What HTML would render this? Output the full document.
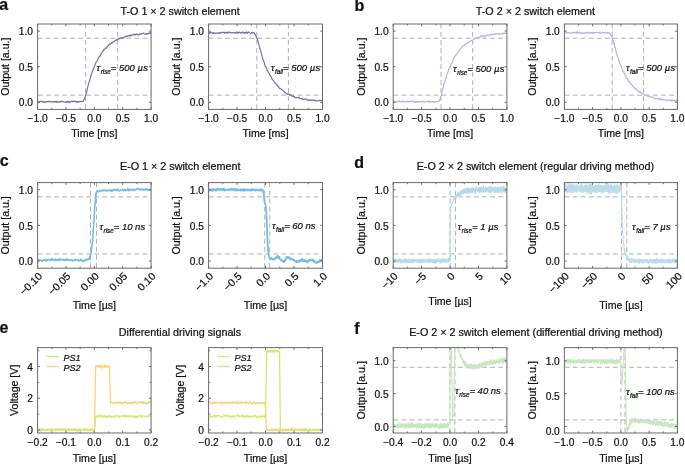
<!DOCTYPE html><html><head><meta charset="utf-8"><style>html,body{margin:0;padding:0;background:#fff;overflow:hidden;}svg{display:block;}text{font-family:'Liberation Sans', sans-serif;fill:#111;stroke:#111;stroke-width:0.22px;}svg{will-change:transform;}</style></head><body>
<svg width="685" height="465" viewBox="0 0 685 465">
<rect width="685" height="465" fill="#fff"/>
<text x="-0.8" y="9.6" font-size="16" font-weight="bold" fill="#000">a</text>
<text x="354.6" y="10.7" font-size="16" font-weight="bold" fill="#000">b</text>
<text x="-0.3" y="165.8" font-size="16" font-weight="bold" fill="#000">c</text>
<text x="354.2" y="168.1" font-size="16" font-weight="bold" fill="#000">d</text>
<text x="-0.6" y="332.5" font-size="16" font-weight="bold" fill="#000">e</text>
<text x="354.3" y="333.5" font-size="16" font-weight="bold" fill="#000">f</text>
<text x="180.1" y="14.7" font-size="10.75" text-anchor="middle">T-O 1 × 2 switch element</text>
<text x="535.4" y="14.8" font-size="10.75" text-anchor="middle">T-O 2 × 2 switch element</text>
<text x="180.2" y="169.6" font-size="10.75" text-anchor="middle">E-O 1 × 2 switch element</text>
<text x="535.4" y="169.6" font-size="10.75" text-anchor="middle">E-O 2 × 2 switch element (regular driving method)</text>
<text x="180.0" y="335.9" font-size="10.75" text-anchor="middle">Differential driving signals</text>
<text x="535.9" y="335.9" font-size="10.75" text-anchor="middle">E-O 2 × 2 switch element (differential driving method)</text>
<clipPath id="k1"><rect x="37.60" y="24.00" width="113.50" height="85.40"/></clipPath>
<line x1="37.90" y1="95.17" x2="151.10" y2="95.17" stroke="#b0b0b0" stroke-width="1" stroke-dasharray="4.8 3.25"/>
<line x1="37.90" y1="38.23" x2="151.10" y2="38.23" stroke="#b0b0b0" stroke-width="1" stroke-dasharray="4.8 3.25"/>
<line x1="85.61" y1="109.10" x2="85.61" y2="24.00" stroke="#b0b0b0" stroke-width="1" stroke-dasharray="4.8 3.25"/>
<line x1="117.62" y1="109.10" x2="117.62" y2="24.00" stroke="#b0b0b0" stroke-width="1" stroke-dasharray="4.8 3.25"/>
<polyline fill="none" stroke="#7d6ca8" stroke-width="1.20" stroke-linejoin="round" stroke-opacity="1" points="37.60,101.65 38.04,101.64 38.48,101.85 38.91,102.03 39.35,102.00 39.79,101.49 40.23,101.33 40.67,101.35 41.11,101.39 41.54,101.55 41.98,101.57 42.42,102.09 42.86,101.92 43.30,101.37 43.74,101.46 44.17,102.01 44.61,102.58 45.05,102.38 45.49,102.06 45.93,101.75 46.36,101.65 46.80,101.59 47.24,101.74 47.68,101.80 48.12,101.54 48.56,101.78 48.99,101.45 49.43,101.14 49.87,101.27 50.31,101.57 50.75,102.06 51.18,101.99 51.62,101.83 52.06,101.58 52.50,101.49 52.94,101.76 53.38,102.07 53.81,102.09 54.25,101.54 54.69,101.61 55.13,101.86 55.57,101.55 56.01,101.98 56.44,102.08 56.88,101.37 57.32,101.89 57.76,102.30 58.20,101.82 58.63,101.95 59.07,101.79 59.51,101.60 59.95,102.10 60.39,101.87 60.83,101.34 61.26,101.31 61.70,101.11 62.14,101.26 62.58,101.59 63.02,102.01 63.46,101.89 63.89,101.71 64.33,101.98 64.77,102.15 65.21,102.28 65.65,102.09 66.08,101.52 66.52,101.90 66.96,102.59 67.40,102.02 67.84,101.29 68.28,101.21 68.71,102.05 69.15,102.83 69.59,102.26 70.03,101.81 70.47,102.18 70.91,101.75 71.34,101.19 71.78,101.40 72.22,101.61 72.66,101.54 73.10,101.20 73.53,101.16 73.97,101.43 74.41,101.45 74.85,101.97 75.29,101.79 75.73,101.15 76.16,101.34 76.60,102.08 77.04,102.37 77.48,101.66 77.92,101.96 78.35,102.22 78.79,101.50 79.23,101.79 79.67,101.64 80.11,101.17 80.55,101.61 80.98,101.67 81.42,101.47 81.86,101.52 82.30,101.40 82.74,101.40 83.18,101.39 83.61,100.37 84.05,99.48 84.49,99.01 84.93,97.64 85.37,95.74 85.80,94.60 86.24,93.65 86.68,91.76 87.12,89.64 87.56,87.92 88.00,85.83 88.43,84.36 88.87,82.81 89.31,81.32 89.75,80.34 90.19,78.41 90.63,76.53 91.06,75.11 91.50,73.99 91.94,72.90 92.38,71.71 92.82,70.40 93.25,69.33 93.69,68.28 94.13,67.00 94.57,66.02 95.01,64.95 95.45,63.82 95.88,62.55 96.32,61.69 96.76,61.40 97.20,60.71 97.64,59.76 98.07,58.62 98.51,57.91 98.95,57.27 99.39,55.98 99.83,56.01 100.27,56.05 100.70,54.67 101.14,53.63 101.58,53.00 102.02,52.60 102.46,51.89 102.90,51.14 103.33,50.87 103.77,49.79 104.21,49.05 104.65,49.29 105.09,48.91 105.52,48.35 105.96,47.87 106.40,48.05 106.84,47.73 107.28,46.36 107.72,46.13 108.15,46.00 108.59,45.08 109.03,44.48 109.47,43.98 109.91,44.27 110.35,44.40 110.78,43.72 111.22,43.16 111.66,42.49 112.10,43.02 112.54,42.73 112.97,42.14 113.41,41.96 113.85,41.71 114.29,41.58 114.73,40.65 115.17,40.49 115.60,40.51 116.04,40.04 116.48,39.83 116.92,39.84 117.36,39.28 117.79,38.79 118.23,39.06 118.67,38.44 119.11,38.47 119.55,38.75 119.99,38.36 120.42,38.38 120.86,37.98 121.30,37.79 121.74,37.66 122.18,37.95 122.62,38.34 123.05,37.66 123.49,37.39 123.93,37.67 124.37,37.67 124.81,36.96 125.24,36.28 125.68,36.11 126.12,36.42 126.56,36.68 127.00,36.62 127.44,36.32 127.87,35.54 128.31,35.85 128.75,35.76 129.19,35.20 129.63,35.54 130.07,36.20 130.50,35.71 130.94,35.16 131.38,35.58 131.82,35.38 132.26,35.05 132.69,34.70 133.13,34.98 133.57,35.00 134.01,34.30 134.45,34.16 134.89,34.51 135.32,35.00 135.76,34.64 136.20,34.36 136.64,34.53 137.08,34.14 137.52,34.19 137.95,35.07 138.39,35.05 138.83,34.89 139.27,34.53 139.71,33.94 140.14,34.25 140.58,34.29 141.02,33.88 141.46,33.81 141.90,33.65 142.34,33.64 142.77,33.67 143.21,33.25 143.65,33.06 144.09,33.57 144.53,33.72 144.96,33.99 145.40,34.45 145.84,34.44 146.28,33.86 146.72,33.65 147.16,33.89 147.59,33.60 148.03,33.57 148.47,33.64 148.91,33.55 149.35,32.92 149.79,32.94 150.22,33.23 150.66,32.97 151.10,33.13" clip-path="url(#k1)"/>
<rect x="37.60" y="24.00" width="113.50" height="85.40" fill="none" stroke="#6a6a6a" stroke-width="1"/>
<path d="M37.60 109.40v-2.30M37.60 24.00v2.30M65.97 109.40v-2.30M65.97 24.00v2.30M94.35 109.40v-2.30M94.35 24.00v2.30M122.72 109.40v-2.30M122.72 24.00v2.30M151.10 109.40v-2.30M151.10 24.00v2.30M37.60 102.28h2.30M151.10 102.28h-2.30M37.60 66.70h2.30M151.10 66.70h-2.30M37.60 31.12h2.30M151.10 31.12h-2.30" stroke="#6a6a6a" stroke-width="1" fill="none"/>
<path d="M51.79 109.40v-1.60M51.79 24.00v1.60M80.16 109.40v-1.60M80.16 24.00v1.60M108.54 109.40v-1.60M108.54 24.00v1.60M136.91 109.40v-1.60M136.91 24.00v1.60" stroke="#6a6a6a" stroke-width="0.9" fill="none"/>
<text x="37.60" y="121.70" font-size="10.20" text-anchor="middle">−1.0</text>
<text x="65.97" y="121.70" font-size="10.20" text-anchor="middle">−0.5</text>
<text x="94.35" y="121.70" font-size="10.20" text-anchor="middle">0.0</text>
<text x="122.72" y="121.70" font-size="10.20" text-anchor="middle">0.5</text>
<text x="151.10" y="121.70" font-size="10.20" text-anchor="middle">1.0</text>
<text x="33.00" y="106.48" font-size="10.20" text-anchor="end">0.0</text>
<text x="33.00" y="70.90" font-size="10.20" text-anchor="end">0.5</text>
<text x="33.00" y="35.32" font-size="10.20" text-anchor="end">1.0</text>
<text x="94.35" y="136.90" font-size="10.60" text-anchor="middle">Time [ms]</text>
<text x="9.30" y="66.70" font-size="10.60" text-anchor="middle" transform="rotate(-90 9.30 66.70)">Output [a.u.]</text>
<text x="96.60" y="70.70" font-size="9.5" font-style="italic" fill="#222">τ<tspan font-size="6.3" dx="0.5" dy="3.0">rise</tspan><tspan dy="-3.0">= </tspan>500 µ<tspan dx="0.2">s</tspan></text>
<clipPath id="k2"><rect x="208.60" y="24.00" width="113.90" height="85.40"/></clipPath>
<line x1="208.90" y1="95.17" x2="322.50" y2="95.17" stroke="#b0b0b0" stroke-width="1" stroke-dasharray="4.8 3.25"/>
<line x1="208.90" y1="38.23" x2="322.50" y2="38.23" stroke="#b0b0b0" stroke-width="1" stroke-dasharray="4.8 3.25"/>
<line x1="256.78" y1="109.10" x2="256.78" y2="24.00" stroke="#b0b0b0" stroke-width="1" stroke-dasharray="4.8 3.25"/>
<line x1="288.39" y1="109.10" x2="288.39" y2="24.00" stroke="#b0b0b0" stroke-width="1" stroke-dasharray="4.8 3.25"/>
<polyline fill="none" stroke="#7d6ca8" stroke-width="1.20" stroke-linejoin="round" stroke-opacity="1" points="208.60,32.62 209.04,32.90 209.48,33.32 209.92,32.65 210.36,32.30 210.80,32.55 211.24,32.55 211.68,32.51 212.12,33.01 212.56,33.44 213.00,33.31 213.44,32.68 213.88,32.66 214.32,33.12 214.76,33.17 215.20,33.33 215.64,33.17 216.08,33.08 216.52,32.96 216.96,33.26 217.40,33.26 217.84,32.83 218.27,33.40 218.71,33.06 219.15,32.64 219.59,33.38 220.03,33.53 220.47,32.90 220.91,32.80 221.35,32.67 221.79,32.37 222.23,32.40 222.67,32.50 223.11,32.34 223.55,32.25 223.99,32.47 224.43,33.16 224.87,33.05 225.31,32.20 225.75,32.50 226.19,32.95 226.63,32.38 227.07,32.71 227.51,33.08 227.95,32.03 228.39,32.38 228.83,32.81 229.27,32.11 229.71,32.31 230.15,32.64 230.59,32.39 231.03,32.75 231.47,33.00 231.91,32.70 232.35,32.47 232.79,32.55 233.23,32.81 233.67,33.06 234.11,33.10 234.55,32.62 234.99,32.50 235.43,32.94 235.87,33.18 236.31,32.29 236.75,31.80 237.18,32.31 237.62,33.25 238.06,33.25 238.50,32.48 238.94,32.21 239.38,32.22 239.82,32.66 240.26,32.64 240.70,33.11 241.14,32.98 241.58,32.41 242.02,32.85 242.46,32.60 242.90,31.96 243.34,32.65 243.78,33.27 244.22,32.85 244.66,32.63 245.10,32.81 245.54,33.10 245.98,32.47 246.42,31.96 246.86,32.79 247.30,33.39 247.74,32.66 248.18,32.08 248.62,32.05 249.06,32.09 249.50,32.77 249.94,32.91 250.38,33.23 250.82,33.49 251.26,32.96 251.70,32.64 252.14,32.81 252.58,32.97 253.02,32.67 253.46,32.63 253.90,32.81 254.34,33.26 254.78,33.98 255.22,34.50 255.66,35.18 256.09,36.45 256.53,37.66 256.97,38.56 257.41,39.67 257.85,40.99 258.29,42.36 258.73,43.95 259.17,45.62 259.61,47.71 260.05,49.24 260.49,50.28 260.93,51.84 261.37,53.68 261.81,55.14 262.25,56.77 262.69,58.73 263.13,59.81 263.57,60.87 264.01,61.95 264.45,63.20 264.89,65.22 265.33,66.35 265.77,66.40 266.21,67.30 266.65,69.08 267.09,70.18 267.53,70.67 267.97,71.30 268.41,72.30 268.85,72.93 269.29,73.65 269.73,74.86 270.17,75.69 270.61,76.05 271.05,76.71 271.49,77.60 271.93,78.82 272.37,79.80 272.81,80.01 273.25,80.69 273.69,81.23 274.13,81.61 274.57,82.24 275.01,83.01 275.44,83.15 275.88,83.32 276.32,84.53 276.76,85.32 277.20,85.10 277.64,85.68 278.08,86.56 278.52,86.67 278.96,87.32 279.40,88.28 279.84,88.63 280.28,88.64 280.72,88.78 281.16,89.04 281.60,89.67 282.04,90.00 282.48,90.21 282.92,90.69 283.36,91.13 283.80,91.55 284.24,91.68 284.68,92.18 285.12,92.78 285.56,92.79 286.00,93.26 286.44,93.62 286.88,94.01 287.32,94.31 287.76,93.89 288.20,93.80 288.64,94.18 289.08,94.59 289.52,95.14 289.96,94.82 290.40,94.52 290.84,94.89 291.28,95.43 291.72,95.93 292.16,96.33 292.60,96.26 293.04,95.72 293.48,96.56 293.92,96.96 294.35,96.47 294.79,97.04 295.23,97.80 295.67,97.76 296.11,97.59 296.55,97.80 296.99,97.76 297.43,97.46 297.87,97.43 298.31,97.43 298.75,97.32 299.19,97.31 299.63,98.12 300.07,98.64 300.51,98.67 300.95,98.91 301.39,98.76 301.83,98.58 302.27,98.52 302.71,99.01 303.15,99.52 303.59,99.21 304.03,99.03 304.47,99.17 304.91,99.21 305.35,99.40 305.79,99.28 306.23,99.06 306.67,99.33 307.11,99.65 307.55,99.73 307.99,100.31 308.43,100.57 308.87,99.94 309.31,100.12 309.75,100.14 310.19,99.77 310.63,100.22 311.07,100.37 311.51,100.15 311.95,100.02 312.39,99.83 312.83,100.00 313.26,100.42 313.70,100.49 314.14,100.33 314.58,100.15 315.02,100.10 315.46,100.50 315.90,100.95 316.34,100.90 316.78,100.78 317.22,101.00 317.66,100.88 318.10,100.76 318.54,100.73 318.98,100.51 319.42,100.67 319.86,100.25 320.30,100.25 320.74,100.59 321.18,100.50 321.62,100.53 322.06,101.18 322.50,101.68" clip-path="url(#k2)"/>
<rect x="208.60" y="24.00" width="113.90" height="85.40" fill="none" stroke="#6a6a6a" stroke-width="1"/>
<path d="M208.60 109.40v-2.30M208.60 24.00v2.30M237.07 109.40v-2.30M237.07 24.00v2.30M265.55 109.40v-2.30M265.55 24.00v2.30M294.02 109.40v-2.30M294.02 24.00v2.30M322.50 109.40v-2.30M322.50 24.00v2.30M208.60 102.28h2.30M322.50 102.28h-2.30M208.60 66.70h2.30M322.50 66.70h-2.30M208.60 31.12h2.30M322.50 31.12h-2.30" stroke="#6a6a6a" stroke-width="1" fill="none"/>
<path d="M222.84 109.40v-1.60M222.84 24.00v1.60M251.31 109.40v-1.60M251.31 24.00v1.60M279.79 109.40v-1.60M279.79 24.00v1.60M308.26 109.40v-1.60M308.26 24.00v1.60" stroke="#6a6a6a" stroke-width="0.9" fill="none"/>
<text x="208.60" y="121.70" font-size="10.20" text-anchor="middle">−1.0</text>
<text x="237.07" y="121.70" font-size="10.20" text-anchor="middle">−0.5</text>
<text x="265.55" y="121.70" font-size="10.20" text-anchor="middle">0.0</text>
<text x="294.02" y="121.70" font-size="10.20" text-anchor="middle">0.5</text>
<text x="322.50" y="121.70" font-size="10.20" text-anchor="middle">1.0</text>
<text x="204.00" y="106.48" font-size="10.20" text-anchor="end">0.0</text>
<text x="204.00" y="70.90" font-size="10.20" text-anchor="end">0.5</text>
<text x="204.00" y="35.32" font-size="10.20" text-anchor="end">1.0</text>
<text x="265.55" y="136.90" font-size="10.60" text-anchor="middle">Time [ms]</text>
<text x="180.30" y="66.70" font-size="10.60" text-anchor="middle" transform="rotate(-90 180.30 66.70)">Output [a.u.]</text>
<text x="270.90" y="70.70" font-size="9.5" font-style="italic" fill="#222">τ<tspan font-size="6.3" dx="0.5" dy="3.0">fall</tspan><tspan dy="-3.0">= </tspan>500 µ<tspan dx="0.2">s</tspan></text>
<clipPath id="k3"><rect x="393.20" y="24.00" width="113.70" height="85.40"/></clipPath>
<line x1="393.50" y1="95.17" x2="506.90" y2="95.17" stroke="#b0b0b0" stroke-width="1" stroke-dasharray="4.8 3.25"/>
<line x1="393.50" y1="38.23" x2="506.90" y2="38.23" stroke="#b0b0b0" stroke-width="1" stroke-dasharray="4.8 3.25"/>
<line x1="441.01" y1="109.10" x2="441.01" y2="24.00" stroke="#b0b0b0" stroke-width="1" stroke-dasharray="4.8 3.25"/>
<line x1="472.62" y1="109.10" x2="472.62" y2="24.00" stroke="#b0b0b0" stroke-width="1" stroke-dasharray="4.8 3.25"/>
<polyline fill="none" stroke="#b2b2ec" stroke-width="1.20" stroke-linejoin="round" stroke-opacity="1" points="393.20,100.97 393.64,101.04 394.08,101.31 394.52,101.20 394.96,101.28 395.39,101.35 395.83,101.62 396.27,101.63 396.71,101.86 397.15,101.69 397.59,101.67 398.03,101.91 398.47,101.12 398.91,101.24 399.35,101.77 399.78,101.42 400.22,101.41 400.66,101.91 401.10,101.85 401.54,101.50 401.98,101.39 402.42,101.73 402.86,101.47 403.30,100.85 403.74,101.29 404.17,101.64 404.61,101.75 405.05,101.47 405.49,101.54 405.93,101.72 406.37,101.67 406.81,102.01 407.25,101.71 407.69,101.20 408.13,101.38 408.56,101.89 409.00,101.68 409.44,101.52 409.88,101.65 410.32,101.25 410.76,101.05 411.20,101.56 411.64,101.27 412.08,101.14 412.52,101.52 412.95,101.68 413.39,101.89 413.83,102.17 414.27,101.70 414.71,100.92 415.15,101.68 415.59,102.40 416.03,102.50 416.47,101.83 416.91,101.53 417.34,101.84 417.78,101.81 418.22,101.82 418.66,102.02 419.10,101.98 419.54,102.07 419.98,102.09 420.42,101.65 420.86,101.52 421.30,101.65 421.73,102.00 422.17,101.90 422.61,101.80 423.05,101.44 423.49,101.13 423.93,101.55 424.37,101.86 424.81,102.01 425.25,102.13 425.69,102.04 426.12,101.73 426.56,101.51 427.00,101.44 427.44,101.04 427.88,101.36 428.32,101.89 428.76,101.01 429.20,101.48 429.64,102.31 430.08,101.80 430.51,101.63 430.95,101.57 431.39,101.67 431.83,101.68 432.27,101.61 432.71,101.51 433.15,102.00 433.59,102.41 434.03,101.94 434.47,101.97 434.90,102.24 435.34,101.82 435.78,101.72 436.22,101.72 436.66,101.37 437.10,101.45 437.54,101.51 437.98,101.59 438.42,101.84 438.86,101.36 439.29,100.25 439.73,99.54 440.17,98.66 440.61,97.15 441.05,95.99 441.49,94.50 441.93,92.13 442.37,90.58 442.81,89.21 443.25,87.36 443.68,85.33 444.12,83.57 444.56,82.15 445.00,80.87 445.44,79.62 445.88,78.01 446.32,77.06 446.76,75.35 447.20,73.37 447.64,72.91 448.07,71.72 448.51,70.13 448.95,69.05 449.39,67.82 449.83,67.23 450.27,66.33 450.71,64.56 451.15,63.68 451.59,63.36 452.03,62.64 452.46,61.80 452.90,60.51 453.34,58.94 453.78,58.10 454.22,57.68 454.66,56.47 455.10,55.92 455.54,55.94 455.98,54.99 456.42,54.01 456.85,53.75 457.29,53.55 457.73,52.61 458.17,51.66 458.61,51.49 459.05,51.05 459.49,50.32 459.93,49.63 460.37,49.02 460.81,48.67 461.24,48.25 461.68,47.51 462.12,46.62 462.56,46.55 463.00,46.27 463.44,45.96 463.88,45.76 464.32,45.00 464.76,44.27 465.20,44.19 465.63,44.24 466.07,43.76 466.51,43.79 466.95,43.52 467.39,43.01 467.83,42.62 468.27,42.44 468.71,42.76 469.15,42.19 469.59,41.36 470.02,41.25 470.46,40.85 470.90,40.54 471.34,40.68 471.78,40.27 472.22,40.29 472.66,40.37 473.10,39.77 473.54,39.18 473.98,39.03 474.41,38.97 474.85,38.91 475.29,38.74 475.73,37.98 476.17,38.06 476.61,37.72 477.05,37.55 477.49,37.99 477.93,37.64 478.37,37.24 478.80,37.45 479.24,38.10 479.68,37.51 480.12,36.65 480.56,36.52 481.00,35.94 481.44,35.93 481.88,36.41 482.32,36.12 482.76,35.98 483.19,35.69 483.63,36.00 484.07,36.41 484.51,36.87 484.95,36.48 485.39,35.61 485.83,35.50 486.27,34.78 486.71,34.93 487.15,35.45 487.58,35.50 488.02,35.57 488.46,35.53 488.90,35.08 489.34,34.84 489.78,34.92 490.22,34.91 490.66,34.63 491.10,34.40 491.54,34.60 491.97,34.50 492.41,34.45 492.85,34.85 493.29,34.39 493.73,33.93 494.17,34.48 494.61,34.28 495.05,33.90 495.49,34.52 495.93,34.15 496.36,33.63 496.80,33.77 497.24,33.76 497.68,33.98 498.12,34.38 498.56,34.06 499.00,33.62 499.44,33.90 499.88,33.78 500.32,33.65 500.75,33.54 501.19,33.62 501.63,33.76 502.07,34.18 502.51,34.24 502.95,33.50 503.39,33.03 503.83,33.26 504.27,33.60 504.71,33.08 505.14,33.11 505.58,33.30 506.02,32.77 506.46,32.92 506.90,33.00" clip-path="url(#k3)"/>
<rect x="393.20" y="24.00" width="113.70" height="85.40" fill="none" stroke="#6a6a6a" stroke-width="1"/>
<path d="M393.20 109.40v-2.30M393.20 24.00v2.30M421.62 109.40v-2.30M421.62 24.00v2.30M450.05 109.40v-2.30M450.05 24.00v2.30M478.47 109.40v-2.30M478.47 24.00v2.30M506.90 109.40v-2.30M506.90 24.00v2.30M393.20 102.28h2.30M506.90 102.28h-2.30M393.20 66.70h2.30M506.90 66.70h-2.30M393.20 31.12h2.30M506.90 31.12h-2.30" stroke="#6a6a6a" stroke-width="1" fill="none"/>
<path d="M407.41 109.40v-1.60M407.41 24.00v1.60M435.84 109.40v-1.60M435.84 24.00v1.60M464.26 109.40v-1.60M464.26 24.00v1.60M492.69 109.40v-1.60M492.69 24.00v1.60" stroke="#6a6a6a" stroke-width="0.9" fill="none"/>
<text x="393.20" y="121.70" font-size="10.20" text-anchor="middle">−1.0</text>
<text x="421.62" y="121.70" font-size="10.20" text-anchor="middle">−0.5</text>
<text x="450.05" y="121.70" font-size="10.20" text-anchor="middle">0.0</text>
<text x="478.47" y="121.70" font-size="10.20" text-anchor="middle">0.5</text>
<text x="506.90" y="121.70" font-size="10.20" text-anchor="middle">1.0</text>
<text x="388.60" y="106.48" font-size="10.20" text-anchor="end">0.0</text>
<text x="388.60" y="70.90" font-size="10.20" text-anchor="end">0.5</text>
<text x="388.60" y="35.32" font-size="10.20" text-anchor="end">1.0</text>
<text x="450.05" y="136.90" font-size="10.60" text-anchor="middle">Time [ms]</text>
<text x="364.90" y="66.70" font-size="10.60" text-anchor="middle" transform="rotate(-90 364.90 66.70)">Output [a.u.]</text>
<text x="453.10" y="72.00" font-size="9.5" font-style="italic" fill="#222">τ<tspan font-size="6.3" dx="0.5" dy="3.0">rise</tspan><tspan dy="-3.0">= </tspan>500 µ<tspan dx="0.2">s</tspan></text>
<clipPath id="k4"><rect x="564.40" y="24.00" width="113.00" height="85.40"/></clipPath>
<line x1="564.70" y1="95.17" x2="677.40" y2="95.17" stroke="#b0b0b0" stroke-width="1" stroke-dasharray="4.8 3.25"/>
<line x1="564.70" y1="38.23" x2="677.40" y2="38.23" stroke="#b0b0b0" stroke-width="1" stroke-dasharray="4.8 3.25"/>
<line x1="612.20" y1="109.10" x2="612.20" y2="24.00" stroke="#b0b0b0" stroke-width="1" stroke-dasharray="4.8 3.25"/>
<line x1="643.50" y1="109.10" x2="643.50" y2="24.00" stroke="#b0b0b0" stroke-width="1" stroke-dasharray="4.8 3.25"/>
<polyline fill="none" stroke="#b2b2ec" stroke-width="1.20" stroke-linejoin="round" stroke-opacity="1" points="564.40,32.72 564.84,32.74 565.27,32.44 565.71,31.87 566.15,32.32 566.58,33.07 567.02,32.77 567.45,32.89 567.89,32.89 568.33,32.48 568.76,32.68 569.20,32.69 569.64,33.01 570.07,32.95 570.51,32.95 570.94,33.32 571.38,33.07 571.82,32.99 572.25,32.64 572.69,32.52 573.13,32.83 573.56,32.72 574.00,32.22 574.43,32.35 574.87,32.66 575.31,32.35 575.74,32.37 576.18,33.01 576.62,32.45 577.05,31.57 577.49,32.70 577.93,33.26 578.36,32.66 578.80,32.41 579.23,32.34 579.67,32.65 580.11,33.09 580.54,32.99 580.98,32.47 581.42,32.77 581.85,33.29 582.29,33.02 582.72,33.25 583.16,33.31 583.60,32.93 584.03,32.75 584.47,32.82 584.91,33.15 585.34,33.07 585.78,32.87 586.21,32.93 586.65,32.92 587.09,32.56 587.52,32.27 587.96,32.03 588.40,32.52 588.83,33.06 589.27,33.48 589.71,32.90 590.14,32.46 590.58,32.94 591.01,32.63 591.45,32.96 591.89,32.98 592.32,32.64 592.76,33.22 593.20,33.14 593.63,32.38 594.07,32.92 594.50,33.02 594.94,32.50 595.38,32.58 595.81,32.52 596.25,32.31 596.69,32.48 597.12,32.59 597.56,32.64 597.99,32.67 598.43,32.78 598.87,32.99 599.30,32.35 599.74,32.21 600.18,32.68 600.61,33.08 601.05,33.24 601.48,32.90 601.92,32.47 602.36,32.41 602.79,32.51 603.23,32.63 603.67,32.42 604.10,32.51 604.54,32.99 604.98,32.67 605.41,32.51 605.85,32.81 606.28,32.97 606.72,32.96 607.16,32.66 607.59,32.51 608.03,32.97 608.47,32.95 608.90,32.68 609.34,33.28 609.77,33.53 610.21,33.82 610.65,34.78 611.08,35.27 611.52,35.72 611.96,37.14 612.39,38.46 612.83,39.75 613.26,40.64 613.70,41.94 614.14,43.82 614.57,45.49 615.01,47.32 615.45,48.27 615.88,50.73 616.32,52.97 616.76,53.72 617.19,55.11 617.63,56.83 618.06,57.64 618.50,58.79 618.94,61.04 619.37,62.10 619.81,63.33 620.25,64.43 620.68,65.29 621.12,66.64 621.55,67.25 621.99,68.29 622.43,69.96 622.86,71.39 623.30,71.68 623.74,71.98 624.17,73.37 624.61,74.19 625.04,74.69 625.48,75.55 625.92,77.02 626.35,78.01 626.79,77.95 627.23,78.40 627.66,79.09 628.10,80.56 628.54,81.38 628.97,81.26 629.41,81.27 629.84,82.21 630.28,83.51 630.72,83.81 631.15,84.04 631.59,84.67 632.03,85.11 632.46,85.68 632.90,86.37 633.33,86.76 633.77,87.23 634.21,87.70 634.64,88.56 635.08,88.51 635.52,88.43 635.95,89.22 636.39,89.61 636.82,89.58 637.26,90.22 637.70,90.83 638.13,90.77 638.57,90.93 639.01,91.45 639.44,92.41 639.88,92.30 640.32,91.97 640.75,92.54 641.19,92.96 641.62,93.15 642.06,93.43 642.50,93.99 642.93,94.31 643.37,94.42 643.81,94.61 644.24,94.96 644.68,94.85 645.11,95.09 645.55,95.28 645.99,95.39 646.42,95.65 646.86,95.22 647.30,95.43 647.73,96.13 648.17,96.33 648.60,96.26 649.04,96.86 649.48,97.20 649.91,96.87 650.35,96.97 650.79,97.13 651.22,96.96 651.66,96.91 652.09,96.99 652.53,97.16 652.97,97.57 653.40,97.84 653.84,97.94 654.28,98.13 654.71,98.21 655.15,98.66 655.59,98.80 656.02,98.47 656.46,98.72 656.89,98.81 657.33,98.52 657.77,98.64 658.20,98.33 658.64,99.03 659.08,99.68 659.51,99.56 659.95,99.33 660.38,98.28 660.82,99.22 661.26,99.93 661.69,99.23 662.13,99.40 662.57,99.46 663.00,100.01 663.44,99.99 663.87,99.39 664.31,99.65 664.75,99.95 665.18,99.85 665.62,99.87 666.06,100.03 666.49,100.08 666.93,100.75 667.37,100.68 667.80,100.11 668.24,99.95 668.67,100.27 669.11,100.51 669.55,100.17 669.98,100.16 670.42,100.05 670.86,99.62 671.29,100.20 671.73,101.22 672.16,100.81 672.60,99.97 673.04,99.99 673.47,100.20 673.91,100.62 674.35,101.03 674.78,100.68 675.22,100.76 675.65,101.47 676.09,101.52 676.53,100.46 676.96,99.75 677.40,100.58" clip-path="url(#k4)"/>
<rect x="564.40" y="24.00" width="113.00" height="85.40" fill="none" stroke="#6a6a6a" stroke-width="1"/>
<path d="M564.40 109.40v-2.30M564.40 24.00v2.30M592.65 109.40v-2.30M592.65 24.00v2.30M620.90 109.40v-2.30M620.90 24.00v2.30M649.15 109.40v-2.30M649.15 24.00v2.30M677.40 109.40v-2.30M677.40 24.00v2.30M564.40 102.28h2.30M677.40 102.28h-2.30M564.40 66.70h2.30M677.40 66.70h-2.30M564.40 31.12h2.30M677.40 31.12h-2.30" stroke="#6a6a6a" stroke-width="1" fill="none"/>
<path d="M578.52 109.40v-1.60M578.52 24.00v1.60M606.77 109.40v-1.60M606.77 24.00v1.60M635.02 109.40v-1.60M635.02 24.00v1.60M663.27 109.40v-1.60M663.27 24.00v1.60" stroke="#6a6a6a" stroke-width="0.9" fill="none"/>
<text x="564.40" y="121.70" font-size="10.20" text-anchor="middle">−1.0</text>
<text x="592.65" y="121.70" font-size="10.20" text-anchor="middle">−0.5</text>
<text x="620.90" y="121.70" font-size="10.20" text-anchor="middle">0.0</text>
<text x="649.15" y="121.70" font-size="10.20" text-anchor="middle">0.5</text>
<text x="677.40" y="121.70" font-size="10.20" text-anchor="middle">1.0</text>
<text x="559.80" y="106.48" font-size="10.20" text-anchor="end">0.0</text>
<text x="559.80" y="70.90" font-size="10.20" text-anchor="end">0.5</text>
<text x="559.80" y="35.32" font-size="10.20" text-anchor="end">1.0</text>
<text x="620.90" y="136.90" font-size="10.60" text-anchor="middle">Time [ms]</text>
<text x="536.10" y="66.70" font-size="10.60" text-anchor="middle" transform="rotate(-90 536.10 66.70)">Output [a.u.]</text>
<text x="625.90" y="70.70" font-size="9.5" font-style="italic" fill="#222">τ<tspan font-size="6.3" dx="0.5" dy="3.0">fall</tspan><tspan dy="-3.0">= </tspan>500 µ<tspan dx="0.2">s</tspan></text>
<clipPath id="k5"><rect x="37.60" y="182.60" width="113.50" height="85.60"/></clipPath>
<line x1="37.90" y1="253.93" x2="151.10" y2="253.93" stroke="#b0b0b0" stroke-width="1" stroke-dasharray="4.8 3.25"/>
<line x1="37.90" y1="196.87" x2="151.10" y2="196.87" stroke="#b0b0b0" stroke-width="1" stroke-dasharray="4.8 3.25"/>
<line x1="90.49" y1="267.90" x2="90.49" y2="182.60" stroke="#b0b0b0" stroke-width="1" stroke-dasharray="4.8 3.25"/>
<line x1="96.51" y1="267.90" x2="96.51" y2="182.60" stroke="#b0b0b0" stroke-width="1" stroke-dasharray="4.8 3.25"/>
<polyline fill="none" stroke="#74bbea" stroke-width="1.60" stroke-linejoin="round" stroke-opacity="1" points="37.60,260.18 37.98,259.80 38.36,259.56 38.74,260.41 39.12,259.92 39.50,259.74 39.88,260.12 40.26,259.92 40.64,260.11 41.02,259.99 41.40,260.13 41.78,260.89 42.16,261.43 42.53,261.22 42.91,260.71 43.29,260.27 43.67,259.99 44.05,259.78 44.43,259.76 44.81,260.23 45.19,260.53 45.57,261.00 45.95,260.80 46.33,259.89 46.71,259.64 47.09,259.85 47.47,260.10 47.85,259.73 48.23,259.66 48.61,259.73 48.99,259.53 49.37,259.72 49.75,259.46 50.13,259.74 50.51,260.33 50.89,260.41 51.27,260.56 51.65,259.73 52.02,258.83 52.40,259.37 52.78,259.79 53.16,259.38 53.54,259.30 53.92,259.29 54.30,260.02 54.68,260.67 55.06,260.06 55.44,259.33 55.82,259.45 56.20,260.26 56.58,260.42 56.96,260.36 57.34,260.53 57.72,259.77 58.10,259.69 58.48,260.21 58.86,259.23 59.24,258.81 59.62,259.46 60.00,260.09 60.38,260.07 60.76,259.28 61.14,259.20 61.51,259.33 61.89,259.52 62.27,259.78 62.65,259.89 63.03,259.92 63.41,259.39 63.79,260.04 64.17,260.52 64.55,259.93 64.93,260.11 65.31,260.31 65.69,259.83 66.07,259.01 66.45,259.07 66.83,259.66 67.21,260.43 67.59,259.86 67.97,259.29 68.35,259.98 68.73,260.40 69.11,260.41 69.49,260.40 69.87,260.36 70.25,259.81 70.63,259.82 71.00,259.89 71.38,260.20 71.76,259.79 72.14,259.72 72.52,260.87 72.90,260.70 73.28,260.33 73.66,260.62 74.04,260.48 74.42,260.02 74.80,260.31 75.18,260.46 75.56,259.54 75.94,259.25 76.32,259.81 76.70,260.01 77.08,259.99 77.46,260.06 77.84,259.75 78.22,259.77 78.60,260.88 78.98,260.85 79.36,260.32 79.74,260.08 80.12,259.98 80.49,260.16 80.87,259.18 81.25,259.60 81.63,260.76 82.01,260.89 82.39,261.34 82.77,261.51 83.15,260.53 83.53,260.09 83.91,260.88 84.29,261.18 84.67,260.30 85.05,260.05 85.43,260.40 85.81,260.01 86.19,259.40 86.57,258.83 86.95,258.95 87.33,259.58 87.71,259.88 88.09,259.30 88.47,258.78 88.85,259.14 89.23,258.84 89.61,257.43 89.98,256.38 90.36,255.46 90.74,254.75 91.12,252.35 91.50,249.83 91.88,246.60 92.26,243.26 92.64,241.11 93.02,234.81 93.40,228.06 93.78,223.26 94.16,216.96 94.54,210.28 94.92,204.94 95.30,200.41 95.68,197.16 96.06,192.79 96.44,191.86 96.82,191.23 97.20,190.57 97.58,191.13 97.96,191.92 98.34,191.85 98.72,191.59 99.09,191.28 99.47,190.93 99.85,190.59 100.23,190.69 100.61,191.01 100.99,191.16 101.37,190.57 101.75,190.13 102.13,190.41 102.51,190.78 102.89,190.25 103.27,190.33 103.65,190.63 104.03,190.00 104.41,190.31 104.79,190.41 105.17,190.69 105.55,190.61 105.93,190.13 106.31,191.03 106.69,190.85 107.07,190.59 107.45,190.35 107.83,190.26 108.21,190.76 108.58,190.40 108.96,190.45 109.34,190.44 109.72,190.50 110.10,190.34 110.48,190.13 110.86,190.27 111.24,191.23 111.62,190.88 112.00,189.88 112.38,190.90 112.76,190.87 113.14,190.06 113.52,189.69 113.90,190.23 114.28,190.04 114.66,189.70 115.04,189.39 115.42,189.36 115.80,189.95 116.18,190.02 116.56,190.63 116.94,190.10 117.32,189.38 117.70,189.21 118.07,189.22 118.45,189.96 118.83,190.84 119.21,190.86 119.59,190.50 119.97,190.55 120.35,190.10 120.73,189.69 121.11,189.98 121.49,190.03 121.87,189.98 122.25,189.96 122.63,189.63 123.01,189.36 123.39,189.86 123.77,190.72 124.15,189.97 124.53,189.39 124.91,189.49 125.29,190.11 125.67,190.61 126.05,190.01 126.43,190.39 126.81,190.58 127.19,189.80 127.56,189.23 127.94,188.92 128.32,189.60 128.70,190.65 129.08,190.15 129.46,189.31 129.84,189.42 130.22,190.21 130.60,189.99 130.98,189.24 131.36,189.31 131.74,189.76 132.12,189.84 132.50,189.38 132.88,189.68 133.26,190.60 133.64,190.28 134.02,189.45 134.40,189.55 134.78,189.40 135.16,189.60 135.54,189.94 135.92,189.83 136.30,189.59 136.68,188.91 137.05,189.20 137.43,189.03 137.81,188.39 138.19,188.83 138.57,189.15 138.95,188.80 139.33,189.06 139.71,189.72 140.09,190.02 140.47,189.81 140.85,188.95 141.23,188.92 141.61,189.24 141.99,189.49 142.37,189.57 142.75,189.99 143.13,189.68 143.51,189.31 143.89,190.06 144.27,190.18 144.65,190.07 145.03,189.49 145.41,188.82 145.79,189.59 146.17,189.63 146.54,188.83 146.92,189.36 147.30,190.19 147.68,190.24 148.06,189.93 148.44,189.54 148.82,189.43 149.20,190.26 149.58,190.04 149.96,189.86 150.34,189.61 150.72,189.49 151.10,190.05" clip-path="url(#k5)"/>
<rect x="37.60" y="182.60" width="113.50" height="85.60" fill="none" stroke="#6a6a6a" stroke-width="1"/>
<path d="M37.60 268.20v-2.30M37.60 182.60v2.30M65.97 268.20v-2.30M65.97 182.60v2.30M94.35 268.20v-2.30M94.35 182.60v2.30M122.73 268.20v-2.30M122.73 182.60v2.30M151.10 268.20v-2.30M151.10 182.60v2.30M37.60 261.07h2.30M151.10 261.07h-2.30M37.60 225.40h2.30M151.10 225.40h-2.30M37.60 189.73h2.30M151.10 189.73h-2.30" stroke="#6a6a6a" stroke-width="1" fill="none"/>
<path d="M51.79 268.20v-1.60M51.79 182.60v1.60M80.16 268.20v-1.60M80.16 182.60v1.60M108.54 268.20v-1.60M108.54 182.60v1.60M136.91 268.20v-1.60M136.91 182.60v1.60" stroke="#6a6a6a" stroke-width="0.9" fill="none"/>
<text x="42.90" y="276.90" font-size="10.55" text-anchor="end" transform="rotate(-45 42.90 276.90)">−0.10</text>
<text x="71.27" y="276.90" font-size="10.55" text-anchor="end" transform="rotate(-45 71.27 276.90)">−0.05</text>
<text x="99.65" y="276.90" font-size="10.55" text-anchor="end" transform="rotate(-45 99.65 276.90)">0.00</text>
<text x="128.03" y="276.90" font-size="10.55" text-anchor="end" transform="rotate(-45 128.03 276.90)">0.05</text>
<text x="156.40" y="276.90" font-size="10.55" text-anchor="end" transform="rotate(-45 156.40 276.90)">0.10</text>
<text x="33.00" y="265.27" font-size="10.20" text-anchor="end">0.0</text>
<text x="33.00" y="229.60" font-size="10.20" text-anchor="end">0.5</text>
<text x="33.00" y="193.93" font-size="10.20" text-anchor="end">1.0</text>
<text x="94.35" y="308.60" font-size="10.60" text-anchor="middle">Time [µs]</text>
<text x="9.30" y="225.40" font-size="10.60" text-anchor="middle" transform="rotate(-90 9.30 225.40)">Output [a.u.]</text>
<text x="99.50" y="230.10" font-size="9.5" font-style="italic" fill="#222">τ<tspan font-size="6.3" dx="0.5" dy="3.0">rise</tspan><tspan dy="-3.0">= </tspan>10 ns</text>
<clipPath id="k6"><rect x="208.60" y="182.60" width="113.90" height="85.60"/></clipPath>
<line x1="208.90" y1="253.93" x2="322.50" y2="253.93" stroke="#b0b0b0" stroke-width="1" stroke-dasharray="4.8 3.25"/>
<line x1="208.90" y1="196.87" x2="322.50" y2="196.87" stroke="#b0b0b0" stroke-width="1" stroke-dasharray="4.8 3.25"/>
<line x1="264.70" y1="267.90" x2="264.70" y2="182.60" stroke="#b0b0b0" stroke-width="1" stroke-dasharray="4.8 3.25"/>
<line x1="269.71" y1="267.90" x2="269.71" y2="182.60" stroke="#b0b0b0" stroke-width="1" stroke-dasharray="4.8 3.25"/>
<polyline fill="none" stroke="#74bbea" stroke-width="1.80" stroke-linejoin="round" stroke-opacity="1" points="208.60,189.50 208.83,189.08 209.06,189.29 209.28,189.45 209.51,190.11 209.74,190.36 209.97,190.06 210.20,190.20 210.43,189.88 210.65,189.80 210.88,190.17 211.11,190.26 211.34,190.67 211.57,190.18 211.80,189.15 212.02,189.28 212.25,189.98 212.48,190.85 212.71,190.50 212.94,189.31 213.17,189.28 213.39,189.36 213.62,189.01 213.85,188.94 214.08,189.53 214.31,189.55 214.53,189.18 214.76,189.96 214.99,190.32 215.22,190.29 215.45,190.20 215.68,189.59 215.90,189.88 216.13,190.68 216.36,189.96 216.59,189.23 216.82,189.17 217.05,189.69 217.27,189.81 217.50,188.78 217.73,188.50 217.96,189.19 218.19,189.72 218.42,189.70 218.64,189.48 218.87,189.12 219.10,189.39 219.33,190.12 219.56,189.92 219.78,189.65 220.01,189.69 220.24,189.46 220.47,189.16 220.70,188.90 220.93,189.53 221.15,189.76 221.38,189.09 221.61,189.36 221.84,189.76 222.07,189.24 222.30,188.99 222.52,189.20 222.75,189.98 222.98,190.51 223.21,190.04 223.44,189.54 223.66,188.85 223.89,189.22 224.12,189.65 224.35,189.16 224.58,190.01 224.81,190.49 225.03,189.93 225.26,189.83 225.49,189.93 225.72,189.64 225.95,189.84 226.18,189.84 226.40,189.78 226.63,190.09 226.86,189.74 227.09,189.74 227.32,189.82 227.55,189.16 227.77,189.24 228.00,189.77 228.23,189.56 228.46,189.62 228.69,189.52 228.91,189.79 229.14,189.93 229.37,189.70 229.60,190.13 229.83,189.44 230.06,189.46 230.28,189.46 230.51,189.00 230.74,189.09 230.97,189.59 231.20,189.67 231.43,188.93 231.65,189.33 231.88,189.81 232.11,189.03 232.34,188.94 232.57,189.81 232.80,190.05 233.02,189.79 233.25,189.50 233.48,189.58 233.71,189.16 233.94,189.31 234.16,189.69 234.39,189.15 234.62,189.60 234.85,189.72 235.08,188.86 235.31,189.59 235.53,190.48 235.76,190.38 235.99,190.61 236.22,190.16 236.45,190.16 236.68,190.14 236.90,189.14 237.13,189.78 237.36,190.32 237.59,190.41 237.82,190.08 238.05,189.72 238.27,190.04 238.50,189.80 238.73,189.55 238.96,189.67 239.19,189.83 239.41,189.89 239.64,189.86 239.87,190.05 240.10,190.07 240.33,190.30 240.56,190.47 240.78,189.30 241.01,189.13 241.24,190.09 241.47,190.04 241.70,189.95 241.93,190.53 242.15,190.46 242.38,189.73 242.61,189.39 242.84,189.65 243.07,190.04 243.29,190.34 243.52,189.65 243.75,189.25 243.98,189.95 244.21,190.66 244.44,190.79 244.66,189.40 244.89,189.33 245.12,190.10 245.35,189.69 245.58,189.72 245.81,189.87 246.03,190.23 246.26,190.47 246.49,189.54 246.72,189.45 246.95,189.71 247.18,189.99 247.40,190.33 247.63,189.74 247.86,189.34 248.09,189.76 248.32,189.89 248.54,189.44 248.77,189.84 249.00,189.81 249.23,189.86 249.46,190.25 249.69,189.98 249.91,190.56 250.14,190.59 250.37,190.07 250.60,190.48 250.83,190.30 251.06,189.63 251.28,189.62 251.51,189.47 251.74,189.70 251.97,190.48 252.20,189.66 252.43,189.14 252.65,189.33 252.88,189.70 253.11,189.74 253.34,189.41 253.57,189.46 253.79,189.53 254.02,189.36 254.25,189.56 254.48,190.22 254.71,190.47 254.94,189.83 255.16,189.61 255.39,190.27 255.62,190.33 255.85,190.15 256.08,190.25 256.31,190.21 256.53,190.01 256.76,190.09 256.99,190.19 257.22,190.01 257.45,189.86 257.68,189.84 257.90,189.62 258.13,189.55 258.36,190.29 258.59,190.56 258.82,190.14 259.04,189.74 259.27,189.98 259.50,190.43 259.73,190.04 259.96,189.92 260.19,189.54 260.41,189.57 260.64,189.58 260.87,189.88 261.10,190.73 261.33,189.91 261.56,189.23 261.78,189.45 262.01,189.55 262.24,189.55 262.47,189.95 262.70,189.91 262.93,190.11 263.15,190.90 263.38,191.83 263.61,194.21 263.84,196.48 264.07,197.76 264.29,199.54 264.52,201.70 264.75,202.69 264.98,203.33 265.21,204.30 265.44,204.84 265.66,205.29 265.89,206.65 266.12,209.62 266.35,213.72 266.58,218.08 266.81,223.75 267.03,229.80 267.26,235.71 267.49,240.95 267.72,245.37 267.95,249.07 268.17,251.46 268.40,253.40 268.63,254.42 268.86,255.17 269.09,256.48 269.32,257.81 269.54,258.18 269.77,258.13 270.00,258.76 270.23,259.17 270.46,259.62 270.69,259.17 270.91,258.58 271.14,258.04 271.37,258.11 271.60,259.00 271.83,258.63 272.06,258.61 272.28,259.07 272.51,259.30 272.74,259.60 272.97,259.11 273.20,258.69 273.42,258.66 273.65,259.06 273.88,259.53 274.11,259.61 274.34,259.20 274.57,259.19 274.79,259.13 275.02,258.20 275.25,257.77 275.48,258.21 275.71,258.13 275.94,257.89 276.16,258.27 276.39,258.28 276.62,257.53 276.85,256.45 277.08,256.81 277.31,257.39 277.53,257.22 277.76,256.21 277.99,255.84 278.22,256.87 278.45,257.88 278.67,258.13 278.90,257.43 279.13,256.87 279.36,257.52 279.59,258.50 279.82,258.79 280.04,259.36 280.27,259.14 280.50,259.10 280.73,259.27 280.96,259.66 281.19,260.58 281.41,260.18 281.64,260.24 281.87,260.30 282.10,260.27 282.33,261.07 282.56,261.10 282.78,260.70 283.01,261.67 283.24,261.54 283.47,260.88 283.70,261.19 283.92,261.78 284.15,262.02 284.38,261.26 284.61,260.36 284.84,260.33 285.07,260.56 285.29,260.37 285.52,259.81 285.75,258.73 285.98,258.81 286.21,258.73 286.44,257.74 286.66,256.83 286.89,256.61 287.12,257.10 287.35,257.64 287.58,257.88 287.81,257.84 288.03,257.62 288.26,257.54 288.49,257.18 288.72,257.19 288.95,258.13 289.17,257.85 289.40,257.35 289.63,257.89 289.86,258.50 290.09,259.21 290.32,259.41 290.54,258.67 290.77,258.71 291.00,259.49 291.23,259.30 291.46,258.94 291.69,258.93 291.91,258.92 292.14,258.80 292.37,259.39 292.60,259.65 292.83,259.83 293.05,260.06 293.28,259.84 293.51,260.12 293.74,260.01 293.97,260.23 294.20,260.32 294.42,260.19 294.65,260.63 294.88,261.20 295.11,261.61 295.34,261.73 295.57,261.70 295.79,261.69 296.02,260.83 296.25,260.69 296.48,261.39 296.71,261.85 296.94,262.25 297.16,262.00 297.39,261.63 297.62,261.76 297.85,261.23 298.08,261.00 298.30,261.07 298.53,261.51 298.76,261.74 298.99,260.86 299.22,260.71 299.45,260.52 299.67,260.40 299.90,260.44 300.13,261.00 300.36,261.17 300.59,261.21 300.82,260.71 301.04,259.82 301.27,259.98 301.50,260.26 301.73,260.35 301.96,259.55 302.19,258.88 302.41,259.51 302.64,259.73 302.87,260.29 303.10,261.35 303.33,261.11 303.55,260.88 303.78,260.99 304.01,260.76 304.24,259.77 304.47,260.11 304.70,261.10 304.92,260.91 305.15,261.03 305.38,260.92 305.61,260.46 305.84,261.20 306.07,261.74 306.29,261.46 306.52,261.39 306.75,261.73 306.98,262.31 307.21,262.45 307.44,261.67 307.66,260.83 307.89,260.87 308.12,261.56 308.35,261.60 308.58,261.03 308.80,261.25 309.03,261.21 309.26,260.48 309.49,259.95 309.72,260.08 309.95,260.00 310.17,260.09 310.40,260.15 310.63,259.91 310.86,259.75 311.09,259.81 311.32,260.08 311.54,260.19 311.77,260.45 312.00,259.84 312.23,259.60 312.46,260.26 312.68,259.83 312.91,259.65 313.14,260.93 313.37,261.25 313.60,260.64 313.83,260.39 314.05,260.35 314.28,260.80 314.51,261.67 314.74,262.27 314.97,261.95 315.20,261.64 315.42,262.14 315.65,262.52 315.88,262.45 316.11,262.42 316.34,262.31 316.57,262.53 316.79,263.08 317.02,262.65 317.25,261.80 317.48,262.17 317.71,262.25 317.93,261.96 318.16,261.94 318.39,261.79 318.62,262.08 318.85,261.92 319.08,261.24 319.30,261.55 319.53,261.12 319.76,260.08 319.99,259.99 320.22,259.88 320.45,260.07 320.67,260.64 320.90,260.91 321.13,260.91 321.36,260.56 321.59,260.18 321.82,259.87 322.04,260.35 322.27,259.74 322.50,258.36" clip-path="url(#k6)"/>
<rect x="208.60" y="182.60" width="113.90" height="85.60" fill="none" stroke="#6a6a6a" stroke-width="1"/>
<path d="M208.60 268.20v-2.30M208.60 182.60v2.30M237.07 268.20v-2.30M237.07 182.60v2.30M265.55 268.20v-2.30M265.55 182.60v2.30M294.02 268.20v-2.30M294.02 182.60v2.30M322.50 268.20v-2.30M322.50 182.60v2.30M208.60 261.07h2.30M322.50 261.07h-2.30M208.60 225.40h2.30M322.50 225.40h-2.30M208.60 189.73h2.30M322.50 189.73h-2.30" stroke="#6a6a6a" stroke-width="1" fill="none"/>
<path d="M222.84 268.20v-1.60M222.84 182.60v1.60M251.31 268.20v-1.60M251.31 182.60v1.60M279.79 268.20v-1.60M279.79 182.60v1.60M308.26 268.20v-1.60M308.26 182.60v1.60" stroke="#6a6a6a" stroke-width="0.9" fill="none"/>
<text x="213.90" y="276.90" font-size="10.55" text-anchor="end" transform="rotate(-45 213.90 276.90)">−1.0</text>
<text x="242.38" y="276.90" font-size="10.55" text-anchor="end" transform="rotate(-45 242.38 276.90)">−0.5</text>
<text x="270.85" y="276.90" font-size="10.55" text-anchor="end" transform="rotate(-45 270.85 276.90)">0.0</text>
<text x="299.32" y="276.90" font-size="10.55" text-anchor="end" transform="rotate(-45 299.32 276.90)">0.5</text>
<text x="327.80" y="276.90" font-size="10.55" text-anchor="end" transform="rotate(-45 327.80 276.90)">1.0</text>
<text x="204.00" y="265.27" font-size="10.20" text-anchor="end">0.0</text>
<text x="204.00" y="229.60" font-size="10.20" text-anchor="end">0.5</text>
<text x="204.00" y="193.93" font-size="10.20" text-anchor="end">1.0</text>
<text x="265.55" y="308.60" font-size="10.60" text-anchor="middle">Time [µs]</text>
<text x="180.30" y="225.40" font-size="10.60" text-anchor="middle" transform="rotate(-90 180.30 225.40)">Output [a.u.]</text>
<text x="272.00" y="228.80" font-size="9.5" font-style="italic" fill="#222">τ<tspan font-size="6.3" dx="0.5" dy="3.0">fall</tspan><tspan dy="-3.0">= </tspan>60 ns</text>
<clipPath id="k7"><rect x="393.20" y="182.60" width="113.70" height="85.60"/></clipPath>
<line x1="393.50" y1="253.93" x2="506.90" y2="253.93" stroke="#b0b0b0" stroke-width="1" stroke-dasharray="4.8 3.25"/>
<line x1="393.50" y1="196.87" x2="506.90" y2="196.87" stroke="#b0b0b0" stroke-width="1" stroke-dasharray="4.8 3.25"/>
<line x1="450.05" y1="267.90" x2="450.05" y2="182.60" stroke="#b0b0b0" stroke-width="1" stroke-dasharray="4.8 3.25"/>
<line x1="455.45" y1="267.90" x2="455.45" y2="182.60" stroke="#b0b0b0" stroke-width="1" stroke-dasharray="4.8 3.25"/>
<polyline fill="none" stroke="#b6d9ec" stroke-width="1.10" stroke-linejoin="round" stroke-opacity="1" points="393.20,262.27 393.30,261.15 393.41,260.44 393.51,260.99 393.61,259.98 393.72,262.09 393.82,260.06 393.92,261.03 394.03,259.39 394.13,261.28 394.23,261.67 394.34,262.47 394.44,261.52 394.54,260.45 394.65,261.30 394.75,259.50 394.86,260.10 394.96,262.28 395.06,260.71 395.17,261.73 395.27,260.30 395.37,258.86 395.48,259.75 395.58,260.75 395.68,259.67 395.79,259.45 395.89,260.95 395.99,260.09 396.10,262.83 396.20,260.80 396.30,262.15 396.41,260.52 396.51,261.45 396.61,260.46 396.72,261.30 396.82,261.65 396.92,261.33 397.03,262.37 397.13,259.29 397.23,261.70 397.34,261.50 397.44,262.13 397.55,260.14 397.65,260.39 397.75,261.29 397.86,262.11 397.96,259.67 398.06,262.09 398.17,261.19 398.27,261.95 398.37,260.65 398.48,259.18 398.58,262.58 398.68,262.17 398.79,259.34 398.89,261.21 398.99,260.21 399.10,259.50 399.20,260.12 399.30,260.99 399.41,260.12 399.51,259.61 399.61,259.72 399.72,260.86 399.82,259.04 399.92,261.17 400.03,260.76 400.13,261.66 400.24,261.09 400.34,261.90 400.44,259.15 400.55,261.49 400.65,259.08 400.75,262.88 400.86,260.42 400.96,260.76 401.06,260.05 401.17,261.86 401.27,261.80 401.37,260.96 401.48,261.53 401.58,260.69 401.68,259.76 401.79,260.92 401.89,260.53 401.99,261.72 402.10,261.75 402.20,261.35 402.30,262.93 402.41,260.71 402.51,260.75 402.61,260.39 402.72,261.54 402.82,261.07 402.93,261.35 403.03,260.40 403.13,261.21 403.24,261.27 403.34,259.62 403.44,260.20 403.55,261.04 403.65,259.97 403.75,260.94 403.86,260.57 403.96,262.53 404.06,259.72 404.17,261.80 404.27,258.84 404.37,262.08 404.48,259.86 404.58,259.90 404.68,261.45 404.79,260.08 404.89,261.67 404.99,260.18 405.10,262.96 405.20,258.82 405.30,260.49 405.41,260.18 405.51,261.18 405.61,259.45 405.72,261.62 405.82,261.67 405.93,261.22 406.03,261.56 406.13,261.49 406.24,259.56 406.34,261.41 406.44,261.84 406.55,260.29 406.65,259.61 406.75,260.76 406.86,259.08 406.96,262.73 407.06,260.95 407.17,262.21 407.27,261.66 407.37,259.92 407.48,260.08 407.58,260.73 407.68,260.56 407.79,260.20 407.89,260.56 407.99,260.94 408.10,262.36 408.20,260.25 408.30,259.65 408.41,261.67 408.51,262.10 408.62,262.40 408.72,260.57 408.82,261.61 408.93,259.04 409.03,262.49 409.13,259.89 409.24,260.10 409.34,259.83 409.44,261.29 409.55,261.06 409.65,261.77 409.75,260.74 409.86,259.53 409.96,259.88 410.06,259.76 410.17,261.39 410.27,261.42 410.37,260.34 410.48,262.08 410.58,261.15 410.68,260.45 410.79,260.05 410.89,261.07 410.99,261.50 411.10,261.32 411.20,261.73 411.31,259.27 411.41,260.37 411.51,262.45 411.62,260.28 411.72,260.55 411.82,261.82 411.93,259.32 412.03,260.83 412.13,260.71 412.24,261.66 412.34,259.77 412.44,261.23 412.55,262.44 412.65,259.20 412.75,259.88 412.86,260.02 412.96,258.75 413.06,260.45 413.17,261.23 413.27,260.03 413.37,259.22 413.48,260.73 413.58,262.13 413.68,260.72 413.79,260.24 413.89,260.15 413.99,260.74 414.10,260.85 414.20,259.68 414.31,261.23 414.41,261.13 414.51,260.90 414.62,261.12 414.72,261.90 414.82,261.70 414.93,259.39 415.03,259.37 415.13,259.60 415.24,259.72 415.34,260.84 415.44,259.48 415.55,260.69 415.65,261.40 415.75,260.21 415.86,259.48 415.96,261.17 416.06,261.01 416.17,259.22 416.27,260.25 416.37,261.42 416.48,260.77 416.58,260.75 416.68,261.61 416.79,261.53 416.89,260.62 417.00,262.41 417.10,260.95 417.20,261.03 417.31,261.46 417.41,262.01 417.51,261.46 417.62,259.37 417.72,260.65 417.82,261.93 417.93,260.11 418.03,260.57 418.13,259.89 418.24,260.16 418.34,260.30 418.44,260.29 418.55,259.29 418.65,260.09 418.75,262.33 418.86,261.69 418.96,260.76 419.06,262.46 419.17,261.13 419.27,260.43 419.37,261.86 419.48,261.16 419.58,262.73 419.69,259.69 419.79,262.58 419.89,259.81 420.00,261.66 420.10,261.89 420.20,259.82 420.31,259.38 420.41,260.73 420.51,259.83 420.62,262.39 420.72,260.39 420.82,259.68 420.93,259.72 421.03,261.52 421.13,262.32 421.24,261.23 421.34,258.89 421.44,261.60 421.55,260.03 421.65,260.99 421.75,259.73 421.86,262.01 421.96,262.45 422.06,261.32 422.17,260.87 422.27,259.69 422.38,261.56 422.48,260.37 422.58,259.68 422.69,259.27 422.79,262.28 422.89,259.98 423.00,260.61 423.10,260.56 423.20,261.27 423.31,259.56 423.41,262.08 423.51,261.24 423.62,262.20 423.72,259.85 423.82,260.62 423.93,260.60 424.03,261.11 424.13,262.13 424.24,259.26 424.34,260.31 424.44,259.51 424.55,260.91 424.65,260.76 424.75,261.74 424.86,259.90 424.96,259.97 425.06,260.31 425.17,261.53 425.27,262.10 425.38,262.32 425.48,262.35 425.58,260.18 425.69,261.61 425.79,260.92 425.89,260.96 426.00,260.51 426.10,261.63 426.20,259.91 426.31,260.98 426.41,260.23 426.51,260.08 426.62,260.41 426.72,261.08 426.82,261.40 426.93,259.89 427.03,261.46 427.13,260.75 427.24,262.24 427.34,260.69 427.44,261.59 427.55,259.21 427.65,261.68 427.75,261.75 427.86,261.52 427.96,261.94 428.07,259.51 428.17,259.33 428.27,260.61 428.38,260.77 428.48,261.80 428.58,262.57 428.69,259.21 428.79,258.44 428.89,260.61 429.00,259.15 429.10,260.18 429.20,262.48 429.31,261.35 429.41,260.46 429.51,259.17 429.62,261.96 429.72,260.27 429.82,262.31 429.93,260.93 430.03,261.65 430.13,261.22 430.24,261.54 430.34,259.72 430.44,261.74 430.55,262.31 430.65,260.69 430.76,260.06 430.86,261.84 430.96,260.84 431.07,260.08 431.17,261.86 431.27,260.57 431.38,260.58 431.48,258.88 431.58,259.13 431.69,261.78 431.79,262.21 431.89,260.13 432.00,262.22 432.10,259.60 432.20,261.05 432.31,262.55 432.41,261.58 432.51,261.04 432.62,259.96 432.72,260.63 432.82,260.05 432.93,261.82 433.03,260.41 433.13,260.11 433.24,261.39 433.34,259.32 433.45,262.44 433.55,259.97 433.65,259.49 433.76,261.33 433.86,261.86 433.96,262.59 434.07,260.23 434.17,261.74 434.27,259.82 434.38,262.13 434.48,260.34 434.58,260.54 434.69,259.89 434.79,259.78 434.89,263.38 435.00,260.94 435.10,259.17 435.20,259.56 435.31,259.73 435.41,260.66 435.51,261.49 435.62,260.48 435.72,259.83 435.82,262.25 435.93,259.27 436.03,260.22 436.13,261.13 436.24,261.30 436.34,261.45 436.45,262.69 436.55,262.47 436.65,260.76 436.76,261.89 436.86,260.31 436.96,260.40 437.07,262.05 437.17,259.62 437.27,258.66 437.38,259.82 437.48,259.53 437.58,261.04 437.69,261.37 437.79,258.79 437.89,259.60 438.00,260.34 438.10,260.73 438.20,261.28 438.31,260.77 438.41,261.19 438.51,260.78 438.62,261.23 438.72,261.53 438.82,261.46 438.93,261.94 439.03,261.33 439.14,260.66 439.24,261.84 439.34,261.67 439.45,259.90 439.55,260.02 439.65,259.61 439.76,261.80 439.86,258.71 439.96,261.14 440.07,260.15 440.17,263.14 440.27,261.37 440.38,261.24 440.48,261.45 440.58,260.06 440.69,261.23 440.79,260.01 440.89,262.24 441.00,259.43 441.10,262.23 441.20,259.52 441.31,262.21 441.41,262.70 441.51,260.58 441.62,259.38 441.72,259.60 441.83,260.92 441.93,260.87 442.03,262.27 442.14,260.32 442.24,261.94 442.34,261.51 442.45,259.80 442.55,260.49 442.65,258.66 442.76,259.86 442.86,261.07 442.96,261.73 443.07,259.21 443.17,260.55 443.27,261.18 443.38,260.62 443.48,260.85 443.58,260.84 443.69,260.06 443.79,262.20 443.89,259.42 444.00,261.54 444.10,260.47 444.20,262.39 444.31,261.32 444.41,261.89 444.52,259.16 444.62,261.24 444.72,262.12 444.83,260.65 444.93,260.14 445.03,260.16 445.14,261.52 445.24,258.78 445.34,261.00 445.45,261.42 445.55,259.98 445.65,261.26 445.76,260.27 445.86,259.43 445.96,262.01 446.07,260.51 446.17,260.97 446.27,260.71 446.38,260.05 446.48,260.95 446.58,261.64 446.69,260.61 446.79,261.37 446.89,259.56 447.00,261.07 447.10,260.58 447.20,261.21 447.31,262.23 447.41,259.83 447.52,261.65 447.62,260.60 447.72,260.40 447.83,261.09 447.93,259.42 448.03,261.34 448.14,260.22 448.24,259.26 448.34,258.38 448.45,261.17 448.55,259.28 448.65,262.06 448.76,260.20 448.86,261.66 448.96,261.41 449.07,260.61 449.17,259.98 449.27,258.96 449.38,259.81 449.48,259.64 449.58,261.47 449.69,260.92 449.79,259.21 449.89,261.17 450.00,240.20 450.10,229.45 450.21,208.49 450.31,208.15 450.41,207.69 450.52,207.53 450.62,207.18 450.72,206.91 450.83,206.75 450.93,206.65 451.03,205.78 451.14,205.98 451.24,205.56 451.34,205.16 451.45,204.95 451.55,204.12 451.65,204.71 451.76,203.86 451.86,203.39 451.96,203.36 452.07,203.02 452.17,202.54 452.27,203.18 452.38,202.45 452.48,202.22 452.58,202.29 452.69,201.34 452.79,201.62 452.90,201.06 453.00,200.72 453.10,200.50 453.21,200.23 453.31,200.12 453.41,201.04 453.52,199.44 453.62,199.34 453.72,198.66 453.83,199.62 453.93,199.62 454.03,198.54 454.14,199.17 454.24,199.17 454.34,198.46 454.45,198.36 454.55,198.16 454.65,198.79 454.76,198.66 454.86,198.03 454.96,196.62 455.07,197.26 455.17,196.43 455.27,197.64 455.38,197.30 455.48,196.32 455.58,196.81 455.69,198.17 455.79,197.21 455.90,197.04 456.00,198.24 456.10,197.08 456.21,196.41 456.31,195.83 456.41,197.92 456.52,195.04 456.62,195.43 456.72,194.10 456.83,196.78 456.93,195.28 457.03,193.83 457.14,195.64 457.24,194.87 457.34,193.31 457.45,194.26 457.55,195.61 457.65,192.60 457.76,195.72 457.86,192.40 457.96,193.66 458.07,191.62 458.17,194.25 458.27,193.71 458.38,195.27 458.48,195.00 458.59,193.60 458.69,194.31 458.79,193.74 458.90,192.56 459.00,194.91 459.10,195.98 459.21,196.22 459.31,195.33 459.41,193.85 459.52,195.83 459.62,193.48 459.72,195.65 459.83,194.58 459.93,193.84 460.03,194.64 460.14,192.78 460.24,193.28 460.34,190.87 460.45,193.68 460.55,192.79 460.65,192.04 460.76,190.94 460.86,193.53 460.96,191.14 461.07,194.92 461.17,191.54 461.28,190.65 461.38,193.63 461.48,190.51 461.59,190.77 461.69,192.18 461.79,192.36 461.90,193.13 462.00,193.95 462.10,193.42 462.21,192.62 462.31,193.05 462.41,193.64 462.52,192.52 462.62,190.17 462.72,192.65 462.83,192.99 462.93,191.75 463.03,193.82 463.14,189.82 463.24,190.65 463.34,191.74 463.45,189.42 463.55,193.82 463.65,191.24 463.76,191.36 463.86,189.78 463.97,192.08 464.07,189.76 464.17,191.19 464.28,190.85 464.38,193.09 464.48,188.64 464.59,191.23 464.69,192.57 464.79,193.34 464.90,193.12 465.00,189.82 465.10,191.85 465.21,191.38 465.31,191.89 465.41,191.39 465.52,192.13 465.62,191.11 465.72,189.96 465.83,190.47 465.93,188.65 466.03,190.57 466.14,191.78 466.24,188.25 466.34,193.56 466.45,188.67 466.55,188.29 466.65,189.88 466.76,190.86 466.86,189.36 466.97,188.95 467.07,190.45 467.17,191.49 467.28,188.57 467.38,189.92 467.48,192.93 467.59,192.34 467.69,189.73 467.79,191.24 467.90,190.22 468.00,189.61 468.10,189.48 468.21,191.06 468.31,188.13 468.41,192.81 468.52,191.54 468.62,190.37 468.72,188.12 468.83,189.74 468.93,189.58 469.03,188.20 469.14,191.45 469.24,192.89 469.34,189.89 469.45,191.35 469.55,188.86 469.66,189.71 469.76,192.47 469.86,189.79 469.97,190.80 470.07,188.60 470.17,190.29 470.28,191.38 470.38,189.20 470.48,188.80 470.59,191.75 470.69,189.47 470.79,192.25 470.90,189.31 471.00,191.22 471.10,190.73 471.21,192.31 471.31,189.20 471.41,190.75 471.52,192.48 471.62,189.27 471.72,187.48 471.83,189.03 471.93,190.05 472.03,187.95 472.14,190.23 472.24,189.78 472.35,188.04 472.45,190.35 472.55,189.38 472.66,192.39 472.76,190.23 472.86,190.00 472.97,188.22 473.07,190.26 473.17,189.45 473.28,189.63 473.38,189.72 473.48,188.88 473.59,188.44 473.69,190.88 473.79,189.34 473.90,188.64 474.00,188.21 474.10,191.07 474.21,193.28 474.31,190.68 474.41,191.61 474.52,190.04 474.62,189.56 474.72,190.30 474.83,192.85 474.93,190.60 475.04,191.73 475.14,188.62 475.24,193.61 475.35,192.04 475.45,188.72 475.55,190.55 475.66,187.65 475.76,190.60 475.86,188.43 475.97,188.87 476.07,190.29 476.17,189.02 476.28,189.08 476.38,190.57 476.48,189.90 476.59,187.65 476.69,187.84 476.79,186.73 476.90,189.22 477.00,188.71 477.10,190.74 477.21,188.99 477.31,189.72 477.41,189.26 477.52,190.28 477.62,191.21 477.72,191.95 477.83,189.39 477.93,189.54 478.04,189.54 478.14,189.15 478.24,191.69 478.35,188.91 478.45,190.16 478.55,189.21 478.66,189.62 478.76,190.17 478.86,188.29 478.97,190.58 479.07,188.16 479.17,187.40 479.28,190.31 479.38,192.20 479.48,193.31 479.59,190.74 479.69,190.06 479.79,191.99 479.90,191.25 480.00,187.26 480.10,191.71 480.21,192.23 480.31,189.56 480.41,189.74 480.52,187.37 480.62,190.98 480.73,190.76 480.83,190.53 480.93,191.65 481.04,191.39 481.14,190.81 481.24,191.06 481.35,188.87 481.45,189.19 481.55,190.86 481.66,190.51 481.76,187.30 481.86,189.24 481.97,189.14 482.07,192.04 482.17,189.89 482.28,191.41 482.38,189.52 482.48,190.09 482.59,189.58 482.69,188.60 482.79,191.42 482.90,191.82 483.00,192.39 483.10,188.84 483.21,191.65 483.31,190.03 483.42,185.90 483.52,189.12 483.62,190.51 483.73,192.04 483.83,188.29 483.93,190.56 484.04,191.41 484.14,191.22 484.24,188.98 484.35,188.06 484.45,191.80 484.55,190.17 484.66,189.18 484.76,191.38 484.86,188.26 484.97,189.87 485.07,188.94 485.17,191.25 485.28,189.91 485.38,187.76 485.48,187.27 485.59,192.13 485.69,188.15 485.79,187.61 485.90,187.03 486.00,192.10 486.11,189.07 486.21,190.27 486.31,187.64 486.42,190.14 486.52,190.75 486.62,190.31 486.73,190.18 486.83,188.52 486.93,190.66 487.04,188.69 487.14,190.74 487.24,191.28 487.35,190.14 487.45,188.03 487.55,188.52 487.66,190.99 487.76,190.56 487.86,188.75 487.97,189.92 488.07,190.74 488.17,189.11 488.28,186.44 488.38,191.38 488.48,188.91 488.59,188.64 488.69,189.18 488.79,191.88 488.90,190.35 489.00,191.40 489.11,189.38 489.21,190.48 489.31,189.27 489.42,190.20 489.52,188.89 489.62,192.13 489.73,186.81 489.83,189.96 489.93,189.91 490.04,191.17 490.14,190.30 490.24,192.48 490.35,191.79 490.45,188.62 490.55,191.64 490.66,190.66 490.76,185.98 490.86,189.73 490.97,192.21 491.07,187.46 491.17,189.71 491.28,192.68 491.38,187.58 491.48,189.41 491.59,190.36 491.69,191.22 491.80,189.44 491.90,189.71 492.00,189.28 492.11,187.29 492.21,191.36 492.31,190.90 492.42,187.95 492.52,187.51 492.62,189.64 492.73,188.68 492.83,190.78 492.93,188.38 493.04,189.95 493.14,190.05 493.24,188.50 493.35,188.66 493.45,189.49 493.55,186.85 493.66,191.92 493.76,188.31 493.86,188.32 493.97,187.83 494.07,189.72 494.17,190.64 494.28,188.05 494.38,192.09 494.49,189.87 494.59,189.89 494.69,192.79 494.80,191.01 494.90,187.97 495.00,190.18 495.11,189.45 495.21,188.69 495.31,190.60 495.42,186.85 495.52,191.42 495.62,188.90 495.73,190.78 495.83,191.23 495.93,190.10 496.04,192.05 496.14,189.38 496.24,187.66 496.35,189.40 496.45,190.30 496.55,189.89 496.66,188.36 496.76,190.84 496.86,189.38 496.97,188.35 497.07,191.77 497.17,192.21 497.28,190.30 497.38,190.32 497.49,189.14 497.59,188.54 497.69,188.88 497.80,187.24 497.90,189.82 498.00,191.46 498.11,191.12 498.21,192.56 498.31,188.37 498.42,189.22 498.52,188.16 498.62,186.62 498.73,191.03 498.83,189.13 498.93,189.52 499.04,189.01 499.14,190.45 499.24,192.07 499.35,189.00 499.45,188.79 499.55,188.63 499.66,190.43 499.76,189.78 499.86,191.02 499.97,192.39 500.07,190.09 500.18,191.68 500.28,189.28 500.38,191.62 500.49,186.98 500.59,190.32 500.69,190.41 500.80,190.64 500.90,189.53 501.00,189.71 501.11,190.61 501.21,190.92 501.31,189.90 501.42,190.82 501.52,187.71 501.62,191.00 501.73,186.63 501.83,191.26 501.93,191.43 502.04,190.17 502.14,188.00 502.24,193.29 502.35,188.92 502.45,189.47 502.55,191.57 502.66,192.22 502.76,188.69 502.87,189.31 502.97,189.90 503.07,191.52 503.18,187.57 503.28,189.61 503.38,191.13 503.49,188.73 503.59,191.25 503.69,186.13 503.80,188.06 503.90,190.07 504.00,189.02 504.11,190.28 504.21,188.11 504.31,187.01 504.42,189.96 504.52,191.11 504.62,187.48 504.73,188.16 504.83,192.03 504.93,192.64 505.04,190.09 505.14,188.10 505.24,189.77 505.35,190.35 505.45,189.90 505.56,190.07 505.66,189.14 505.76,189.07 505.87,191.19 505.97,191.42 506.07,187.89 506.18,187.85 506.28,188.76 506.38,189.77 506.49,191.76 506.59,189.23 506.69,188.47 506.80,188.36 506.90,189.24" clip-path="url(#k7)"/>
<rect x="393.20" y="182.60" width="113.70" height="85.60" fill="none" stroke="#6a6a6a" stroke-width="1"/>
<path d="M393.20 268.20v-2.30M393.20 182.60v2.30M421.62 268.20v-2.30M421.62 182.60v2.30M450.05 268.20v-2.30M450.05 182.60v2.30M478.47 268.20v-2.30M478.47 182.60v2.30M506.90 268.20v-2.30M506.90 182.60v2.30M393.20 261.07h2.30M506.90 261.07h-2.30M393.20 225.40h2.30M506.90 225.40h-2.30M393.20 189.73h2.30M506.90 189.73h-2.30" stroke="#6a6a6a" stroke-width="1" fill="none"/>
<path d="M407.41 268.20v-1.60M407.41 182.60v1.60M435.84 268.20v-1.60M435.84 182.60v1.60M464.26 268.20v-1.60M464.26 182.60v1.60M492.69 268.20v-1.60M492.69 182.60v1.60" stroke="#6a6a6a" stroke-width="0.9" fill="none"/>
<text x="398.50" y="276.90" font-size="10.55" text-anchor="end" transform="rotate(-45 398.50 276.90)">−10</text>
<text x="426.93" y="276.90" font-size="10.55" text-anchor="end" transform="rotate(-45 426.93 276.90)">−5</text>
<text x="455.35" y="276.90" font-size="10.55" text-anchor="end" transform="rotate(-45 455.35 276.90)">0</text>
<text x="483.77" y="276.90" font-size="10.55" text-anchor="end" transform="rotate(-45 483.77 276.90)">5</text>
<text x="512.20" y="276.90" font-size="10.55" text-anchor="end" transform="rotate(-45 512.20 276.90)">10</text>
<text x="388.60" y="265.27" font-size="10.20" text-anchor="end">0.0</text>
<text x="388.60" y="229.60" font-size="10.20" text-anchor="end">0.5</text>
<text x="388.60" y="193.93" font-size="10.20" text-anchor="end">1.0</text>
<text x="450.05" y="305.10" font-size="10.60" text-anchor="middle">Time [µs]</text>
<text x="364.90" y="225.40" font-size="10.60" text-anchor="middle" transform="rotate(-90 364.90 225.40)">Output [a.u.]</text>
<text x="457.80" y="230.20" font-size="9.5" font-style="italic" fill="#222">τ<tspan font-size="6.3" dx="0.5" dy="3.0">rise</tspan><tspan dy="-3.0">= </tspan>1 µ<tspan dx="0.2">s</tspan></text>
<clipPath id="k8"><rect x="564.40" y="182.60" width="113.00" height="85.60"/></clipPath>
<line x1="564.70" y1="253.93" x2="677.40" y2="253.93" stroke="#b0b0b0" stroke-width="1" stroke-dasharray="4.8 3.25"/>
<line x1="564.70" y1="196.87" x2="677.40" y2="196.87" stroke="#b0b0b0" stroke-width="1" stroke-dasharray="4.8 3.25"/>
<line x1="621.46" y1="267.90" x2="621.46" y2="182.60" stroke="#b0b0b0" stroke-width="1" stroke-dasharray="4.8 3.25"/>
<line x1="626.78" y1="267.90" x2="626.78" y2="182.60" stroke="#b0b0b0" stroke-width="1" stroke-dasharray="4.8 3.25"/>
<polyline fill="none" stroke="#bcdcec" stroke-width="1.10" stroke-linejoin="round" stroke-opacity="1" points="564.40,187.41 564.48,188.29 564.55,191.84 564.63,191.53 564.70,188.82 564.78,190.02 564.85,187.98 564.93,189.07 565.00,187.70 565.08,190.14 565.15,187.05 565.23,184.65 565.30,188.61 565.38,190.03 565.46,190.27 565.53,189.04 565.61,185.65 565.68,191.55 565.76,190.61 565.83,187.86 565.91,189.45 565.98,187.75 566.06,187.47 566.13,189.71 566.21,184.62 566.28,189.04 566.36,186.96 566.44,185.90 566.51,188.13 566.59,192.93 566.66,186.42 566.74,190.76 566.81,191.09 566.89,189.16 566.96,189.08 567.04,192.12 567.11,189.69 567.19,191.59 567.26,190.08 567.34,189.16 567.42,187.53 567.49,187.24 567.57,191.14 567.64,191.89 567.72,191.07 567.79,185.97 567.87,185.89 567.94,185.44 568.02,188.18 568.09,182.78 568.17,192.31 568.24,189.76 568.32,188.81 568.40,186.36 568.47,187.54 568.55,189.88 568.62,189.73 568.70,190.44 568.77,190.71 568.85,187.48 568.92,191.68 569.00,187.29 569.07,187.94 569.15,189.03 569.22,188.96 569.30,185.38 569.38,185.79 569.45,184.45 569.53,191.96 569.60,189.03 569.68,186.97 569.75,186.37 569.83,191.42 569.90,186.02 569.98,190.73 570.05,190.37 570.13,190.36 570.20,189.69 570.28,185.27 570.36,185.20 570.43,190.71 570.51,186.94 570.58,186.13 570.66,184.47 570.73,187.39 570.81,191.05 570.88,187.71 570.96,186.33 571.03,186.65 571.11,192.71 571.18,183.88 571.26,185.87 571.34,190.21 571.41,187.81 571.49,190.68 571.56,186.87 571.64,188.37 571.71,189.05 571.79,192.21 571.86,186.03 571.94,189.89 572.01,184.15 572.09,183.94 572.16,186.14 572.24,185.38 572.32,188.70 572.39,187.53 572.47,192.53 572.54,185.66 572.62,190.70 572.69,185.18 572.77,191.67 572.84,186.52 572.92,192.26 572.99,189.03 573.07,189.10 573.14,191.05 573.22,185.42 573.30,186.22 573.37,187.49 573.45,189.17 573.52,188.40 573.60,184.97 573.67,187.46 573.75,190.04 573.82,186.33 573.90,187.06 573.97,189.25 574.05,185.13 574.12,189.50 574.20,189.01 574.28,190.93 574.35,187.83 574.43,186.95 574.50,186.90 574.58,187.86 574.65,191.89 574.73,187.12 574.80,191.91 574.88,184.78 574.95,184.71 575.03,190.72 575.10,187.03 575.18,188.15 575.26,190.64 575.33,188.42 575.41,188.51 575.48,187.42 575.56,187.25 575.63,188.24 575.71,189.92 575.78,189.65 575.86,191.00 575.93,189.26 576.01,192.02 576.08,189.93 576.16,188.42 576.24,191.25 576.31,185.15 576.39,189.09 576.46,187.62 576.54,185.41 576.61,190.34 576.69,184.83 576.76,189.32 576.84,185.97 576.91,185.70 576.99,188.29 577.06,185.46 577.14,192.11 577.22,191.58 577.29,186.81 577.37,189.61 577.44,185.18 577.52,186.57 577.59,188.23 577.67,188.67 577.74,191.86 577.82,191.14 577.89,188.55 577.97,188.67 578.04,187.64 578.12,187.20 578.20,190.60 578.27,186.95 578.35,186.97 578.42,187.73 578.50,190.86 578.57,187.67 578.65,186.91 578.72,186.59 578.80,188.01 578.87,189.93 578.95,190.76 579.02,188.40 579.10,190.98 579.18,190.83 579.25,188.30 579.33,187.74 579.40,188.54 579.48,185.72 579.55,186.28 579.63,188.93 579.70,187.46 579.78,189.41 579.85,185.31 579.93,189.86 580.00,189.47 580.08,190.10 580.16,186.41 580.23,186.54 580.31,188.95 580.38,191.52 580.46,185.57 580.53,188.55 580.61,189.23 580.68,191.10 580.76,184.99 580.83,186.00 580.91,192.20 580.98,191.22 581.06,187.62 581.14,187.29 581.21,190.87 581.29,185.20 581.36,192.61 581.44,185.30 581.51,189.07 581.59,188.86 581.66,188.15 581.74,190.64 581.81,183.41 581.89,187.90 581.96,190.87 582.04,191.03 582.12,187.78 582.19,189.10 582.27,184.52 582.34,189.48 582.42,186.15 582.49,187.52 582.57,189.22 582.64,190.69 582.72,187.40 582.79,188.48 582.87,190.98 582.94,191.56 583.02,189.95 583.10,192.46 583.17,192.18 583.25,188.96 583.32,192.52 583.40,186.94 583.47,191.94 583.55,187.67 583.62,190.30 583.70,188.45 583.77,187.41 583.85,189.74 583.92,190.25 584.00,187.73 584.08,186.51 584.15,188.54 584.23,188.44 584.30,191.16 584.38,185.47 584.45,190.85 584.53,190.52 584.60,186.57 584.68,187.74 584.75,188.67 584.83,185.76 584.90,189.74 584.98,185.73 585.06,188.42 585.13,190.65 585.21,188.49 585.28,191.74 585.36,188.95 585.43,185.53 585.51,188.70 585.58,185.23 585.66,186.61 585.73,190.19 585.81,183.45 585.88,187.85 585.96,189.22 586.04,188.40 586.11,190.89 586.19,191.24 586.26,188.57 586.34,188.70 586.41,185.42 586.49,190.27 586.56,185.85 586.64,185.59 586.71,193.14 586.79,187.22 586.86,190.08 586.94,185.25 587.02,186.97 587.09,187.76 587.17,188.31 587.24,186.88 587.32,188.57 587.39,186.01 587.47,188.20 587.54,185.83 587.62,189.13 587.69,190.79 587.77,190.08 587.84,191.33 587.92,185.33 588.00,191.36 588.07,192.28 588.15,190.56 588.22,186.81 588.30,185.10 588.37,188.98 588.45,187.50 588.52,186.93 588.60,187.38 588.67,185.80 588.75,189.33 588.82,193.85 588.90,184.77 588.98,185.24 589.05,191.04 589.13,188.84 589.20,189.43 589.28,188.67 589.35,190.43 589.43,187.54 589.50,190.29 589.58,188.84 589.65,188.46 589.73,186.90 589.80,183.97 589.88,185.60 589.96,191.87 590.03,190.33 590.11,194.27 590.18,192.50 590.26,187.06 590.33,190.63 590.41,186.53 590.48,189.92 590.56,184.71 590.63,187.73 590.71,188.57 590.78,184.42 590.86,191.49 590.94,188.06 591.01,185.40 591.09,187.66 591.16,189.72 591.24,189.00 591.31,184.47 591.39,184.87 591.46,186.90 591.54,194.04 591.61,188.91 591.69,190.11 591.76,187.48 591.84,185.49 591.92,190.10 591.99,187.52 592.07,190.93 592.14,184.75 592.22,187.63 592.29,184.12 592.37,190.65 592.44,186.67 592.52,187.56 592.59,187.32 592.67,185.39 592.74,190.43 592.82,188.45 592.89,186.54 592.97,187.01 593.05,191.89 593.12,188.25 593.20,190.51 593.27,190.11 593.35,189.44 593.42,187.90 593.50,188.96 593.57,187.78 593.65,188.32 593.72,190.19 593.80,187.19 593.87,191.52 593.95,186.60 594.03,188.46 594.10,185.61 594.18,187.86 594.25,192.19 594.33,188.77 594.40,186.29 594.48,187.20 594.55,188.40 594.63,187.08 594.70,187.74 594.78,187.35 594.85,187.94 594.93,187.04 595.01,188.38 595.08,188.45 595.16,185.42 595.23,190.23 595.31,189.44 595.38,185.40 595.46,191.73 595.53,193.03 595.61,186.95 595.68,185.41 595.76,192.29 595.83,188.96 595.91,191.60 595.99,187.37 596.06,185.61 596.14,191.51 596.21,191.92 596.29,188.24 596.36,186.99 596.44,187.10 596.51,186.30 596.59,187.07 596.66,190.13 596.74,190.33 596.81,188.82 596.89,192.55 596.97,191.40 597.04,192.43 597.12,187.62 597.19,188.23 597.27,186.55 597.34,185.80 597.42,187.09 597.49,192.27 597.57,186.96 597.64,191.14 597.72,188.96 597.79,192.44 597.87,189.85 597.95,184.92 598.02,185.72 598.10,189.18 598.17,191.48 598.25,188.46 598.32,186.40 598.40,191.19 598.47,185.56 598.55,191.47 598.62,185.39 598.70,191.28 598.77,186.80 598.85,185.52 598.93,186.13 599.00,185.75 599.08,183.80 599.15,189.52 599.23,191.46 599.30,188.85 599.38,186.40 599.45,185.88 599.53,188.95 599.60,189.87 599.68,189.17 599.75,187.53 599.83,188.81 599.91,189.45 599.98,189.54 600.06,191.45 600.13,189.57 600.21,186.80 600.28,187.48 600.36,187.48 600.43,186.85 600.51,188.60 600.58,189.31 600.66,185.42 600.73,187.02 600.81,190.41 600.89,187.61 600.96,187.92 601.04,187.46 601.11,188.33 601.19,187.71 601.26,192.94 601.34,185.08 601.41,191.72 601.49,190.73 601.56,192.28 601.64,187.73 601.71,189.30 601.79,189.71 601.87,190.26 601.94,190.59 602.02,189.21 602.09,190.90 602.17,190.06 602.24,191.68 602.32,186.53 602.39,189.58 602.47,193.15 602.54,189.01 602.62,189.96 602.69,188.41 602.77,189.03 602.85,189.18 602.92,186.13 603.00,185.67 603.07,186.92 603.15,191.17 603.22,185.47 603.30,185.82 603.37,186.45 603.45,191.59 603.52,191.06 603.60,187.79 603.67,189.56 603.75,191.28 603.83,186.07 603.90,187.27 603.98,191.93 604.05,187.90 604.13,190.24 604.20,192.73 604.28,185.65 604.35,191.07 604.43,186.91 604.50,190.61 604.58,187.06 604.65,191.28 604.73,188.69 604.81,189.71 604.88,187.05 604.96,191.03 605.03,185.69 605.11,188.32 605.18,187.98 605.26,183.60 605.33,190.79 605.41,188.77 605.48,186.31 605.56,190.74 605.63,190.22 605.71,187.61 605.79,188.30 605.86,186.61 605.94,186.97 606.01,186.46 606.09,191.44 606.16,189.62 606.24,191.41 606.31,188.04 606.39,188.62 606.46,190.88 606.54,189.29 606.61,189.67 606.69,185.14 606.77,190.58 606.84,186.11 606.92,188.54 606.99,191.14 607.07,191.27 607.14,188.51 607.22,186.63 607.29,184.82 607.37,189.21 607.44,190.78 607.52,190.42 607.59,188.31 607.67,191.52 607.75,188.58 607.82,189.11 607.90,190.56 607.97,185.68 608.05,187.77 608.12,184.68 608.20,186.01 608.27,193.04 608.35,186.11 608.42,184.85 608.50,187.99 608.57,188.59 608.65,188.27 608.73,189.45 608.80,190.59 608.88,189.84 608.95,187.02 609.03,192.11 609.10,191.06 609.18,188.63 609.25,189.27 609.33,186.07 609.40,189.91 609.48,191.16 609.55,190.76 609.63,192.42 609.71,188.90 609.78,187.65 609.86,186.95 609.93,188.56 610.01,187.82 610.08,184.24 610.16,188.42 610.23,190.28 610.31,193.32 610.38,186.28 610.46,189.31 610.53,192.47 610.61,186.21 610.69,191.24 610.76,188.82 610.84,186.29 610.91,188.04 610.99,185.24 611.06,188.22 611.14,191.25 611.21,189.06 611.29,186.33 611.36,190.37 611.44,188.88 611.51,188.09 611.59,189.83 611.67,185.43 611.74,190.84 611.82,189.92 611.89,184.82 611.97,186.58 612.04,190.62 612.12,190.46 612.19,185.56 612.27,190.78 612.34,192.21 612.42,187.03 612.49,189.01 612.57,189.97 612.65,189.79 612.72,186.90 612.80,187.16 612.87,192.46 612.95,189.18 613.02,189.61 613.10,190.90 613.17,189.87 613.25,191.22 613.32,186.29 613.40,188.13 613.47,190.63 613.55,187.44 613.63,189.78 613.70,186.47 613.78,190.83 613.85,188.48 613.93,185.97 614.00,192.73 614.08,187.89 614.15,187.80 614.23,189.66 614.30,191.51 614.38,190.50 614.45,187.71 614.53,190.20 614.61,184.15 614.68,191.70 614.76,191.62 614.83,186.26 614.91,187.89 614.98,186.28 615.06,192.09 615.13,185.87 615.21,187.34 615.28,189.74 615.36,192.62 615.43,186.69 615.51,187.10 615.59,188.99 615.66,192.47 615.74,188.05 615.81,192.36 615.89,187.11 615.96,190.88 616.04,186.35 616.11,189.72 616.19,187.54 616.26,187.77 616.34,188.85 616.41,186.48 616.49,191.28 616.57,186.37 616.64,187.28 616.72,184.59 616.79,187.57 616.87,193.24 616.94,189.16 617.02,189.85 617.09,193.14 617.17,193.99 617.24,188.65 617.32,184.84 617.39,189.84 617.47,188.96 617.55,190.67 617.62,188.85 617.70,188.53 617.77,190.52 617.85,186.52 617.92,187.12 618.00,189.94 618.07,187.44 618.15,189.13 618.22,190.59 618.30,190.23 618.37,191.54 618.45,189.57 618.53,192.42 618.60,191.33 618.68,189.26 618.75,186.81 618.83,188.79 618.90,185.36 618.98,185.03 619.05,187.20 619.13,189.31 619.20,191.81 619.28,186.55 619.35,185.45 619.43,189.73 619.51,188.69 619.58,189.53 619.66,189.61 619.73,189.34 619.81,187.53 619.88,190.33 619.96,187.12 620.03,188.88 620.11,191.19 620.18,187.97 620.26,186.67 620.33,191.06 620.41,190.88 620.49,186.44 620.56,189.35 620.64,185.01 620.71,186.82 620.79,189.11 620.86,190.40 620.94,188.72 621.01,183.65 621.09,185.51 621.16,189.96 621.24,188.36 621.31,184.82 621.39,187.78 621.47,190.94 621.54,194.31 621.62,197.14 621.69,202.71 621.77,205.06 621.84,209.80 621.92,210.94 621.99,212.73 622.07,218.26 622.14,219.51 622.22,221.31 622.29,221.45 622.37,225.95 622.45,227.22 622.52,228.34 622.60,231.32 622.67,233.38 622.75,231.72 622.82,233.94 622.90,237.09 622.97,235.69 623.05,238.87 623.12,240.72 623.20,239.97 623.27,240.99 623.35,240.76 623.43,242.07 623.50,244.66 623.58,243.94 623.65,244.69 623.73,243.78 623.80,245.59 623.88,245.61 623.95,248.60 624.03,246.92 624.10,247.99 624.18,249.36 624.25,247.67 624.33,250.27 624.41,248.54 624.48,250.40 624.56,248.59 624.63,249.27 624.71,252.20 624.78,249.67 624.86,252.41 624.93,253.70 625.01,252.20 625.08,251.59 625.16,252.42 625.23,252.30 625.31,254.11 625.39,251.87 625.46,255.46 625.54,252.27 625.61,252.33 625.69,255.96 625.76,255.59 625.84,253.23 625.91,254.67 625.99,254.23 626.06,256.85 626.14,254.69 626.21,256.85 626.29,256.62 626.37,258.33 626.44,256.39 626.52,256.30 626.59,258.32 626.67,257.14 626.74,258.32 626.82,257.29 626.89,258.20 626.97,256.80 627.04,259.69 627.12,257.26 627.19,258.07 627.27,258.68 627.35,257.36 627.42,257.37 627.50,256.27 627.57,260.13 627.65,259.29 627.72,259.41 627.80,257.59 627.87,258.84 627.95,258.51 628.02,259.59 628.10,259.41 628.17,258.49 628.25,257.70 628.33,258.37 628.40,260.03 628.48,259.80 628.55,260.32 628.63,259.32 628.70,259.85 628.78,258.75 628.85,259.79 628.93,259.81 629.00,261.68 629.08,258.68 629.15,260.31 629.23,260.29 629.31,261.05 629.38,262.34 629.46,259.40 629.53,259.49 629.61,259.25 629.68,258.63 629.76,262.10 629.83,260.99 629.91,259.60 629.98,259.42 630.06,259.40 630.13,261.85 630.21,260.54 630.29,260.23 630.36,262.21 630.44,259.36 630.51,261.02 630.59,259.26 630.66,260.49 630.74,261.09 630.81,259.20 630.89,260.68 630.96,258.86 631.04,259.44 631.11,261.20 631.19,259.75 631.27,259.78 631.34,261.78 631.42,259.23 631.49,262.54 631.57,261.84 631.64,260.53 631.72,260.96 631.79,258.63 631.87,260.48 631.94,261.26 632.02,260.43 632.09,258.74 632.17,258.93 632.25,260.67 632.32,261.42 632.40,260.14 632.47,259.72 632.55,259.90 632.62,260.46 632.70,258.97 632.77,260.23 632.85,260.69 632.92,260.86 633.00,259.16 633.07,261.51 633.15,261.50 633.23,260.26 633.30,262.54 633.38,260.93 633.45,260.74 633.53,261.43 633.60,260.37 633.68,260.18 633.75,259.19 633.83,260.26 633.90,259.59 633.98,260.31 634.05,260.98 634.13,259.40 634.21,260.76 634.28,262.02 634.36,261.47 634.43,260.05 634.51,261.28 634.58,260.02 634.66,260.62 634.73,262.64 634.81,259.36 634.88,262.25 634.96,262.34 635.03,260.22 635.11,261.80 635.19,260.07 635.26,260.13 635.34,259.59 635.41,259.96 635.49,259.88 635.56,259.16 635.64,260.08 635.71,261.48 635.79,260.99 635.86,262.31 635.94,261.69 636.01,261.38 636.09,261.88 636.17,260.93 636.24,259.43 636.32,259.33 636.39,259.63 636.47,261.13 636.54,260.78 636.62,261.87 636.69,261.67 636.77,260.18 636.84,262.31 636.92,261.86 636.99,261.07 637.07,259.98 637.15,262.03 637.22,261.81 637.30,260.32 637.37,262.66 637.45,261.65 637.52,260.64 637.60,262.20 637.67,260.22 637.75,260.55 637.82,260.34 637.90,261.67 637.97,260.75 638.05,262.05 638.13,262.61 638.20,260.58 638.28,260.12 638.35,258.93 638.43,262.31 638.50,262.61 638.58,261.92 638.65,262.50 638.73,259.41 638.80,263.16 638.88,262.27 638.95,261.92 639.03,260.85 639.11,262.25 639.18,262.54 639.26,263.58 639.33,262.32 639.41,261.15 639.48,261.07 639.56,261.06 639.63,259.66 639.71,259.59 639.78,261.48 639.86,259.22 639.93,259.64 640.01,260.67 640.09,260.43 640.16,261.44 640.24,259.97 640.31,261.88 640.39,260.75 640.46,260.11 640.54,260.69 640.61,261.76 640.69,260.26 640.76,260.04 640.84,259.31 640.91,261.31 640.99,260.32 641.07,260.98 641.14,261.72 641.22,260.68 641.29,260.74 641.37,259.93 641.44,260.37 641.52,262.76 641.59,260.62 641.67,261.53 641.74,260.56 641.82,259.81 641.89,262.61 641.97,259.92 642.05,259.66 642.12,262.65 642.20,261.54 642.27,262.02 642.35,260.11 642.42,262.74 642.50,259.72 642.57,261.15 642.65,261.39 642.72,261.28 642.80,260.91 642.87,262.59 642.95,261.45 643.03,261.16 643.10,261.56 643.18,260.07 643.25,260.85 643.33,262.49 643.40,260.28 643.48,261.94 643.55,260.95 643.63,260.15 643.70,262.59 643.78,262.15 643.85,262.26 643.93,260.93 644.01,259.36 644.08,260.46 644.16,260.43 644.23,259.57 644.31,260.73 644.38,260.99 644.46,259.68 644.53,262.86 644.61,261.01 644.68,260.46 644.76,262.31 644.83,261.39 644.91,261.93 644.99,260.95 645.06,261.57 645.14,261.54 645.21,260.50 645.29,259.58 645.36,259.64 645.44,261.41 645.51,261.99 645.59,259.73 645.66,261.03 645.74,260.32 645.81,260.73 645.89,260.37 645.97,260.23 646.04,260.12 646.12,262.03 646.19,259.85 646.27,260.74 646.34,261.94 646.42,262.15 646.49,261.07 646.57,261.96 646.64,260.11 646.72,260.73 646.79,260.78 646.87,261.16 646.95,260.04 647.02,260.64 647.10,260.33 647.17,259.68 647.25,259.26 647.32,261.67 647.40,258.98 647.47,261.99 647.55,261.72 647.62,262.26 647.70,260.36 647.77,261.95 647.85,261.61 647.93,262.46 648.00,260.48 648.08,263.55 648.15,260.57 648.23,262.12 648.30,261.33 648.38,262.34 648.45,261.77 648.53,261.06 648.60,261.61 648.68,261.24 648.75,260.84 648.83,260.50 648.91,262.42 648.98,260.73 649.06,262.09 649.13,261.65 649.21,260.31 649.28,259.96 649.36,259.47 649.43,262.86 649.51,261.86 649.58,260.35 649.66,259.96 649.73,260.38 649.81,262.44 649.88,260.71 649.96,259.88 650.04,261.51 650.11,262.17 650.19,260.61 650.26,261.57 650.34,260.72 650.41,260.60 650.49,261.44 650.56,259.08 650.64,260.48 650.71,261.28 650.79,260.53 650.86,260.47 650.94,261.53 651.02,261.97 651.09,260.62 651.17,260.47 651.24,261.77 651.32,260.51 651.39,262.27 651.47,260.02 651.54,260.16 651.62,262.20 651.69,260.70 651.77,262.86 651.84,261.19 651.92,262.15 652.00,261.46 652.07,260.54 652.15,260.73 652.22,261.88 652.30,259.79 652.37,263.02 652.45,261.57 652.52,261.24 652.60,259.79 652.67,262.54 652.75,261.21 652.82,260.51 652.90,260.87 652.98,259.45 653.05,261.00 653.13,261.97 653.20,259.51 653.28,259.54 653.35,260.51 653.43,260.12 653.50,262.71 653.58,260.17 653.65,262.20 653.73,262.17 653.80,261.80 653.88,261.40 653.96,259.45 654.03,263.09 654.11,260.45 654.18,261.33 654.26,259.76 654.33,259.29 654.41,259.50 654.48,260.50 654.56,262.28 654.63,261.58 654.71,261.55 654.78,260.36 654.86,261.42 654.94,262.19 655.01,259.94 655.09,260.09 655.16,263.24 655.24,261.84 655.31,262.40 655.39,260.10 655.46,260.23 655.54,260.43 655.61,260.04 655.69,259.35 655.76,259.85 655.84,260.42 655.92,262.38 655.99,262.26 656.07,262.05 656.14,262.91 656.22,260.96 656.29,261.86 656.37,260.90 656.44,260.67 656.52,260.50 656.59,258.84 656.67,262.14 656.74,262.41 656.82,260.39 656.90,262.28 656.97,260.90 657.05,258.93 657.12,262.88 657.20,261.99 657.27,260.25 657.35,261.06 657.42,259.61 657.50,262.61 657.57,261.51 657.65,260.18 657.72,262.13 657.80,262.49 657.88,262.61 657.95,260.17 658.03,260.26 658.10,261.07 658.18,261.45 658.25,261.80 658.33,260.12 658.40,261.98 658.48,261.21 658.55,259.13 658.63,261.30 658.70,260.74 658.78,262.19 658.86,259.53 658.93,259.95 659.01,261.42 659.08,259.24 659.16,262.19 659.23,261.27 659.31,262.16 659.38,261.49 659.46,262.42 659.53,261.76 659.61,260.56 659.68,262.73 659.76,262.77 659.84,261.76 659.91,261.26 659.99,260.17 660.06,260.37 660.14,261.38 660.21,262.41 660.29,260.15 660.36,259.63 660.44,262.22 660.51,262.55 660.59,259.51 660.66,261.76 660.74,260.67 660.82,261.84 660.89,261.17 660.97,259.74 661.04,261.20 661.12,259.84 661.19,262.23 661.27,258.91 661.34,259.93 661.42,260.01 661.49,261.26 661.57,260.41 661.64,260.22 661.72,260.69 661.80,260.09 661.87,261.11 661.95,259.74 662.02,260.02 662.10,262.31 662.17,263.33 662.25,259.65 662.32,260.96 662.40,260.88 662.47,259.75 662.55,261.12 662.62,262.44 662.70,261.30 662.78,261.01 662.85,261.40 662.93,262.28 663.00,261.16 663.08,262.40 663.15,262.58 663.23,259.75 663.30,262.34 663.38,261.31 663.45,261.45 663.53,261.85 663.60,262.09 663.68,260.07 663.76,259.95 663.83,260.47 663.91,259.37 663.98,261.43 664.06,259.37 664.13,260.79 664.21,261.18 664.28,262.19 664.36,260.81 664.43,262.34 664.51,262.54 664.58,259.99 664.66,262.65 664.74,261.34 664.81,262.53 664.89,261.63 664.96,262.81 665.04,261.32 665.11,260.97 665.19,261.44 665.26,262.98 665.34,261.43 665.41,260.44 665.49,262.64 665.56,261.49 665.64,262.32 665.72,261.67 665.79,261.47 665.87,262.33 665.94,263.07 666.02,259.77 666.09,261.04 666.17,260.80 666.24,260.33 666.32,261.44 666.39,260.51 666.47,260.36 666.54,262.29 666.62,259.91 666.70,258.94 666.77,260.69 666.85,259.58 666.92,261.96 667.00,260.31 667.07,260.49 667.15,260.37 667.22,260.90 667.30,262.72 667.37,260.65 667.45,260.66 667.52,259.97 667.60,260.54 667.68,260.94 667.75,262.37 667.83,261.23 667.90,260.60 667.98,261.91 668.05,260.52 668.13,260.55 668.20,261.63 668.28,260.70 668.35,260.74 668.43,259.76 668.50,259.80 668.58,262.87 668.66,262.28 668.73,259.76 668.81,262.35 668.88,261.60 668.96,260.70 669.03,262.26 669.11,261.74 669.18,260.17 669.26,261.74 669.33,259.57 669.41,258.61 669.48,259.73 669.56,261.70 669.64,259.61 669.71,262.35 669.79,263.00 669.86,259.18 669.94,261.60 670.01,260.99 670.09,260.42 670.16,260.05 670.24,259.93 670.31,262.79 670.39,260.63 670.46,261.01 670.54,261.24 670.62,261.91 670.69,261.93 670.77,260.16 670.84,259.79 670.92,262.89 670.99,260.67 671.07,261.24 671.14,262.06 671.22,261.90 671.29,259.99 671.37,261.96 671.44,262.19 671.52,260.64 671.60,260.90 671.67,261.66 671.75,260.80 671.82,261.04 671.90,262.86 671.97,261.72 672.05,259.63 672.12,260.91 672.20,260.71 672.27,260.82 672.35,261.47 672.42,260.78 672.50,260.47 672.58,259.08 672.65,260.27 672.73,260.67 672.80,261.34 672.88,261.36 672.95,260.90 673.03,261.78 673.10,261.85 673.18,261.70 673.25,261.63 673.33,259.18 673.40,262.40 673.48,261.13 673.56,260.60 673.63,261.46 673.71,261.78 673.78,261.39 673.86,261.10 673.93,261.53 674.01,260.38 674.08,260.42 674.16,260.68 674.23,262.47 674.31,260.71 674.38,259.12 674.46,261.10 674.54,261.49 674.61,260.95 674.69,259.29 674.76,260.46 674.84,258.96 674.91,261.93 674.99,259.98 675.06,261.32 675.14,260.80 675.21,261.64 675.29,260.08 675.36,261.32 675.44,260.42 675.52,261.08 675.59,261.61 675.67,262.47 675.74,259.62 675.82,263.24 675.89,262.17 675.97,260.23 676.04,261.33 676.12,259.94 676.19,261.98 676.27,261.72 676.34,259.24 676.42,262.12 676.50,261.91 676.57,262.08 676.65,262.43 676.72,262.13 676.80,262.76 676.87,260.72 676.95,261.58 677.02,261.58 677.10,261.49 677.17,261.44 677.25,259.71 677.32,260.89 677.40,262.28" clip-path="url(#k8)"/>
<rect x="564.40" y="182.60" width="113.00" height="85.60" fill="none" stroke="#6a6a6a" stroke-width="1"/>
<path d="M564.40 268.20v-2.30M564.40 182.60v2.30M592.65 268.20v-2.30M592.65 182.60v2.30M620.90 268.20v-2.30M620.90 182.60v2.30M649.15 268.20v-2.30M649.15 182.60v2.30M677.40 268.20v-2.30M677.40 182.60v2.30M564.40 261.07h2.30M677.40 261.07h-2.30M564.40 225.40h2.30M677.40 225.40h-2.30M564.40 189.73h2.30M677.40 189.73h-2.30" stroke="#6a6a6a" stroke-width="1" fill="none"/>
<path d="M578.52 268.20v-1.60M578.52 182.60v1.60M606.77 268.20v-1.60M606.77 182.60v1.60M635.02 268.20v-1.60M635.02 182.60v1.60M663.27 268.20v-1.60M663.27 182.60v1.60" stroke="#6a6a6a" stroke-width="0.9" fill="none"/>
<text x="569.70" y="276.90" font-size="10.55" text-anchor="end" transform="rotate(-45 569.70 276.90)">−100</text>
<text x="597.95" y="276.90" font-size="10.55" text-anchor="end" transform="rotate(-45 597.95 276.90)">−50</text>
<text x="626.20" y="276.90" font-size="10.55" text-anchor="end" transform="rotate(-45 626.20 276.90)">0</text>
<text x="654.45" y="276.90" font-size="10.55" text-anchor="end" transform="rotate(-45 654.45 276.90)">50</text>
<text x="682.70" y="276.90" font-size="10.55" text-anchor="end" transform="rotate(-45 682.70 276.90)">100</text>
<text x="559.80" y="265.27" font-size="10.20" text-anchor="end">0.0</text>
<text x="559.80" y="229.60" font-size="10.20" text-anchor="end">0.5</text>
<text x="559.80" y="193.93" font-size="10.20" text-anchor="end">1.0</text>
<text x="620.90" y="308.60" font-size="10.60" text-anchor="middle">Time [µs]</text>
<text x="536.10" y="225.40" font-size="10.60" text-anchor="middle" transform="rotate(-90 536.10 225.40)">Output [a.u.]</text>
<text x="632.10" y="230.20" font-size="9.5" font-style="italic" fill="#222">τ<tspan font-size="6.3" dx="0.5" dy="3.0">fall</tspan><tspan dy="-3.0">= </tspan>7 µ<tspan dx="0.2">s</tspan></text>
<clipPath id="k9"><rect x="37.60" y="347.60" width="113.50" height="85.40"/></clipPath>
<polyline fill="none" stroke="#ffd07a" stroke-width="1.30" stroke-linejoin="round" stroke-opacity="1" points="37.60,429.56 37.98,429.28 38.36,429.70 38.74,429.60 39.12,429.21 39.50,429.65 39.88,429.65 40.26,430.35 40.64,431.14 41.02,430.41 41.40,429.88 41.78,430.31 42.16,429.82 42.53,429.42 42.91,429.91 43.29,429.78 43.67,429.56 44.05,429.76 44.43,429.76 44.81,429.86 45.19,430.68 45.57,430.17 45.95,429.57 46.33,429.43 46.71,430.21 47.09,430.50 47.47,430.02 47.85,430.13 48.23,430.04 48.61,430.11 48.99,430.21 49.37,429.68 49.75,430.07 50.13,431.09 50.51,430.32 50.89,428.93 51.27,429.34 51.65,430.44 52.02,430.60 52.40,430.64 52.78,429.74 53.16,429.10 53.54,429.23 53.92,429.35 54.30,429.60 54.68,429.95 55.06,430.40 55.44,429.94 55.82,428.66 56.20,429.04 56.58,429.49 56.96,429.61 57.34,430.07 57.72,429.16 58.10,429.20 58.48,429.61 58.86,429.79 59.24,429.32 59.62,429.57 60.00,430.06 60.38,429.70 60.76,429.83 61.14,429.61 61.51,429.19 61.89,429.00 62.27,429.10 62.65,429.28 63.03,430.09 63.41,429.73 63.79,428.74 64.17,429.06 64.55,429.34 64.93,429.61 65.31,430.45 65.69,430.00 66.07,429.73 66.45,429.38 66.83,428.85 67.21,429.57 67.59,430.06 67.97,430.01 68.35,430.16 68.73,430.34 69.11,429.35 69.49,429.32 69.87,429.23 70.25,429.16 70.63,429.70 71.00,430.01 71.38,430.28 71.76,430.10 72.14,430.51 72.52,429.63 72.90,428.88 73.28,429.63 73.66,430.27 74.04,430.22 74.42,430.21 74.80,430.58 75.18,430.25 75.56,429.09 75.94,429.68 76.32,430.27 76.70,429.82 77.08,431.11 77.46,431.44 77.84,430.41 78.22,429.85 78.60,430.08 78.98,429.43 79.36,428.95 79.74,429.86 80.12,430.67 80.49,430.37 80.87,430.00 81.25,429.68 81.63,429.82 82.01,429.76 82.39,429.54 82.77,429.92 83.15,429.85 83.53,429.69 83.91,429.16 84.29,429.60 84.67,430.36 85.05,429.44 85.43,428.75 85.81,428.74 86.19,428.74 86.57,429.41 86.95,429.16 87.33,429.47 87.71,430.24 88.09,430.13 88.47,429.72 88.85,429.89 89.23,430.21 89.61,430.21 89.98,430.23 90.36,429.48 90.74,428.98 91.12,429.49 91.50,428.96 91.88,429.14 92.26,429.92 92.64,429.83 92.93,430.83 93.02,431.10 93.24,429.81 93.40,429.99 93.56,429.36 93.78,428.78 93.87,429.77 94.16,429.25 94.18,429.34 94.49,429.92 94.54,427.62 94.81,412.85 94.92,406.15 95.12,394.82 95.30,384.83 95.43,377.80 95.68,367.30 95.74,365.94 96.06,365.64 96.06,366.47 96.37,366.16 96.44,366.02 96.68,365.89 96.82,366.43 97.00,366.72 97.20,366.68 97.31,366.71 97.58,365.38 97.62,365.06 97.93,366.32 97.96,366.73 98.25,366.23 98.34,366.66 98.56,366.74 98.72,366.87 98.87,366.60 99.09,365.86 99.18,366.29 99.47,366.37 99.50,365.40 99.81,365.72 99.85,367.34 100.12,367.15 100.23,366.61 100.43,367.03 100.61,366.51 100.75,365.85 100.99,365.96 101.06,365.73 101.37,366.19 101.37,366.96 101.68,366.56 101.75,367.42 102.00,368.62 102.13,367.48 102.31,366.52 102.51,366.62 102.62,366.91 102.89,366.85 102.93,366.08 103.25,366.40 103.27,366.59 103.56,366.41 103.65,366.68 103.87,366.58 104.03,365.95 104.19,365.80 104.41,366.11 104.50,366.25 104.79,367.33 104.81,367.03 105.12,366.22 105.17,366.54 105.44,366.72 105.55,367.34 105.75,366.58 105.93,365.31 106.06,365.28 106.31,366.66 106.37,367.05 106.69,366.80 106.69,367.08 107.00,366.83 107.07,367.00 107.31,367.09 107.45,367.04 107.62,366.46 107.83,365.66 107.94,365.61 108.21,366.22 108.25,366.63 108.56,366.72 108.58,366.67 108.87,366.81 108.96,366.87 109.19,366.31 109.34,366.33 109.50,370.49 109.72,377.61 109.81,380.09 110.10,389.37 110.12,390.18 110.44,399.86 110.48,401.24 110.75,403.18 110.86,402.95 111.06,402.83 111.24,402.76 111.38,402.18 111.62,402.29 112.00,402.48 112.38,403.18 112.76,403.37 113.14,402.81 113.52,402.50 113.90,402.97 114.28,403.27 114.66,403.43 115.04,403.31 115.42,402.69 115.80,402.71 116.18,402.11 116.56,401.88 116.94,402.58 117.32,403.08 117.70,403.17 118.07,402.66 118.45,402.14 118.83,402.62 119.21,403.02 119.59,402.99 119.97,402.69 120.35,402.45 120.73,402.99 121.11,403.39 121.49,402.62 121.87,402.81 122.25,404.00 122.63,404.63 123.01,403.16 123.39,402.21 123.77,402.66 124.15,402.25 124.53,402.25 124.91,402.04 125.29,402.54 125.67,402.97 126.05,402.41 126.43,402.20 126.81,402.87 127.19,403.36 127.56,403.62 127.94,403.24 128.32,402.89 128.70,403.57 129.08,403.58 129.46,402.88 129.84,402.59 130.22,402.80 130.60,402.81 130.98,402.48 131.36,403.00 131.74,403.55 132.12,402.72 132.50,402.14 132.88,403.05 133.26,403.60 133.64,402.50 134.02,401.95 134.40,402.56 134.78,402.46 135.16,401.88 135.54,401.73 135.92,402.79 136.30,403.81 136.68,403.47 137.05,403.00 137.43,402.94 137.81,402.83 138.19,402.12 138.57,401.80 138.95,401.99 139.33,402.41 139.71,402.15 140.09,401.98 140.47,402.52 140.85,402.70 141.23,403.50 141.61,402.69 141.99,401.99 142.37,402.46 142.75,401.58 143.13,401.98 143.51,403.30 143.89,402.85 144.27,402.31 144.65,403.05 145.03,402.77 145.41,402.41 145.79,403.15 146.17,404.10 146.54,404.12 146.92,403.03 147.30,403.04 147.68,402.82 148.06,401.57 148.44,401.82 148.82,402.58 149.20,402.73 149.58,402.48 149.96,402.44 150.34,402.37 150.72,401.85 151.10,401.92" clip-path="url(#k9)"/>
<polyline fill="none" stroke="#d0ea6e" stroke-width="1.30" stroke-linejoin="round" stroke-opacity="1" points="37.60,429.34 37.98,429.31 38.36,430.23 38.74,430.36 39.12,430.29 39.50,430.26 39.88,429.71 40.26,430.06 40.64,430.01 41.02,428.88 41.40,428.57 41.78,428.63 42.16,429.17 42.53,430.33 42.91,429.61 43.29,429.10 43.67,429.77 44.05,429.89 44.43,430.33 44.81,429.95 45.19,430.12 45.57,430.90 45.95,430.17 46.33,429.78 46.71,430.30 47.09,429.96 47.47,429.11 47.85,429.41 48.23,430.00 48.61,429.67 48.99,429.27 49.37,429.08 49.75,429.18 50.13,429.84 50.51,429.90 50.89,429.63 51.27,430.47 51.65,430.00 52.02,429.14 52.40,429.09 52.78,429.33 53.16,429.58 53.54,429.58 53.92,429.80 54.30,429.43 54.68,429.47 55.06,429.58 55.44,429.62 55.82,429.39 56.20,429.12 56.58,430.21 56.96,429.81 57.34,429.02 57.72,429.87 58.10,430.27 58.48,429.30 58.86,429.03 59.24,429.60 59.62,429.41 60.00,429.85 60.38,429.41 60.76,428.36 61.14,429.31 61.51,429.69 61.89,430.01 62.27,430.58 62.65,429.94 63.03,429.79 63.41,429.60 63.79,429.47 64.17,429.54 64.55,429.75 64.93,429.78 65.31,429.94 65.69,429.31 66.07,429.07 66.45,429.35 66.83,429.33 67.21,429.85 67.59,429.96 67.97,430.39 68.35,429.51 68.73,428.87 69.11,429.63 69.49,429.96 69.87,429.51 70.25,429.46 70.63,430.14 71.00,430.22 71.38,429.44 71.76,429.12 72.14,429.78 72.52,430.13 72.90,429.58 73.28,429.23 73.66,429.86 74.04,429.63 74.42,429.16 74.80,429.87 75.18,429.76 75.56,428.98 75.94,429.52 76.32,430.43 76.70,429.91 77.08,429.54 77.46,430.04 77.84,430.02 78.22,430.05 78.60,429.63 78.98,429.95 79.36,430.06 79.74,429.19 80.12,428.99 80.49,429.16 80.87,429.46 81.25,429.81 81.63,429.96 82.01,430.22 82.39,429.55 82.77,429.25 83.15,430.26 83.53,429.89 83.91,428.95 84.29,429.16 84.67,429.85 85.05,430.38 85.43,430.02 85.81,429.69 86.19,430.18 86.57,429.85 86.95,430.08 87.33,430.03 87.71,430.46 88.09,430.98 88.47,430.61 88.85,430.46 89.23,429.63 89.61,430.04 89.98,429.83 90.36,429.59 90.74,430.28 91.12,429.63 91.50,429.72 91.88,429.54 92.26,429.35 92.64,429.95 92.93,430.23 93.02,429.75 93.24,429.41 93.40,430.04 93.56,430.37 93.78,430.43 93.87,430.11 94.16,430.15 94.18,429.81 94.49,429.52 94.54,429.51 94.81,426.15 94.92,424.06 95.12,422.67 95.30,420.94 95.43,418.15 95.68,415.92 95.74,416.02 96.06,416.65 96.06,417.25 96.37,416.30 96.44,416.05 96.68,416.40 96.82,416.12 97.00,416.01 97.20,416.08 97.31,416.40 97.58,416.69 97.62,416.02 97.93,416.09 97.96,417.11 98.25,417.06 98.34,416.19 98.56,415.37 98.72,415.64 98.87,416.57 99.09,416.40 99.18,416.05 99.47,415.83 99.50,415.75 99.81,415.91 99.85,415.91 100.12,416.04 100.23,416.58 100.43,416.80 100.61,415.83 100.75,415.28 100.99,415.52 101.06,415.87 101.37,416.28 101.37,416.30 101.68,416.38 101.75,416.11 102.00,416.10 102.13,416.79 102.31,417.29 102.51,416.43 102.62,416.10 102.89,416.99 102.93,416.55 103.25,415.57 103.27,415.46 103.56,416.25 103.65,416.29 103.87,416.48 104.03,416.79 104.19,416.47 104.41,416.37 104.50,416.09 104.79,415.89 104.81,415.48 105.12,415.37 105.17,416.17 105.44,416.39 105.55,416.60 105.75,416.93 105.93,416.74 106.06,416.12 106.31,416.25 106.37,417.24 106.69,417.36 106.69,417.22 107.00,416.91 107.07,416.57 107.31,416.93 107.45,417.12 107.62,416.84 107.83,416.39 107.94,416.01 108.21,415.65 108.25,415.97 108.56,416.24 108.58,416.12 108.87,416.77 108.96,417.03 109.19,415.78 109.34,415.61 109.50,415.81 109.72,415.45 109.81,415.44 110.10,415.82 110.12,416.10 110.44,416.14 110.48,416.92 110.75,417.24 110.86,416.65 111.06,416.81 111.24,416.84 111.38,416.56 111.62,416.57 112.00,416.75 112.38,416.56 112.76,416.14 113.14,417.05 113.52,417.49 113.90,416.89 114.28,416.96 114.66,416.86 115.04,416.08 115.42,416.45 115.80,416.11 116.18,415.31 116.56,415.71 116.94,416.09 117.32,416.03 117.70,416.30 118.07,415.99 118.45,416.10 118.83,417.51 119.21,417.30 119.59,416.21 119.97,415.90 120.35,416.47 120.73,416.26 121.11,416.15 121.49,416.44 121.87,415.87 122.25,416.04 122.63,415.89 123.01,416.15 123.39,415.81 123.77,415.43 124.15,416.35 124.53,415.55 124.91,415.39 125.29,416.99 125.67,416.47 126.05,415.27 126.43,416.01 126.81,416.97 127.19,416.34 127.56,415.94 127.94,416.71 128.32,416.92 128.70,416.54 129.08,415.98 129.46,415.43 129.84,416.03 130.22,416.05 130.60,416.38 130.98,416.69 131.36,416.17 131.74,416.27 132.12,416.38 132.50,416.81 132.88,416.53 133.26,415.85 133.64,416.80 134.02,417.20 134.40,416.51 134.78,416.93 135.16,417.28 135.54,416.70 135.92,415.98 136.30,415.93 136.68,416.89 137.05,417.69 137.43,417.17 137.81,416.77 138.19,415.87 138.57,415.85 138.95,416.47 139.33,415.96 139.71,415.38 140.09,415.61 140.47,416.11 140.85,415.53 141.23,415.81 141.61,417.19 141.99,417.33 142.37,416.78 142.75,416.00 143.13,415.76 143.51,415.80 143.89,415.88 144.27,416.32 144.65,416.57 145.03,417.06 145.41,416.66 145.79,416.05 146.17,416.03 146.54,416.37 146.92,416.73 147.30,416.39 147.68,416.01 148.06,415.40 148.44,415.95 148.82,416.33 149.20,415.67 149.58,416.15 149.96,416.43 150.34,416.35 150.72,415.83 151.10,414.85" clip-path="url(#k9)"/>
<rect x="37.60" y="347.60" width="113.50" height="85.40" fill="none" stroke="#6a6a6a" stroke-width="1"/>
<path d="M37.60 433.00v-2.30M37.60 347.60v2.30M65.97 433.00v-2.30M65.97 347.60v2.30M94.35 433.00v-2.30M94.35 347.60v2.30M122.73 433.00v-2.30M122.73 347.60v2.30M151.10 433.00v-2.30M151.10 347.60v2.30M37.60 429.84h2.30M151.10 429.84h-2.30M37.60 398.21h2.30M151.10 398.21h-2.30M37.60 366.58h2.30M151.10 366.58h-2.30" stroke="#6a6a6a" stroke-width="1" fill="none"/>
<path d="M51.79 433.00v-1.60M51.79 347.60v1.60M80.16 433.00v-1.60M80.16 347.60v1.60M108.54 433.00v-1.60M108.54 347.60v1.60M136.91 433.00v-1.60M136.91 347.60v1.60M37.60 414.02h1.60M151.10 414.02h-1.60M37.60 382.39h1.60M151.10 382.39h-1.60M37.60 350.76h1.60M151.10 350.76h-1.60" stroke="#6a6a6a" stroke-width="0.9" fill="none"/>
<text x="37.60" y="445.90" font-size="10.20" text-anchor="middle">−0.2</text>
<text x="65.97" y="445.90" font-size="10.20" text-anchor="middle">−0.1</text>
<text x="94.35" y="445.90" font-size="10.20" text-anchor="middle">0.0</text>
<text x="122.73" y="445.90" font-size="10.20" text-anchor="middle">0.1</text>
<text x="151.10" y="445.90" font-size="10.20" text-anchor="middle">0.2</text>
<text x="33.00" y="434.04" font-size="10.20" text-anchor="end">0</text>
<text x="33.00" y="402.41" font-size="10.20" text-anchor="end">2</text>
<text x="33.00" y="370.78" font-size="10.20" text-anchor="end">4</text>
<text x="94.35" y="462.10" font-size="10.60" text-anchor="middle">Time [µs]</text>
<text x="18.10" y="390.30" font-size="10.60" text-anchor="middle" transform="rotate(-90 18.10 390.30)">Voltage [V]</text>
<line x1="46.60" y1="356.50" x2="58.90" y2="356.50" stroke="#d0ea6e" stroke-width="1.3"/>
<line x1="46.60" y1="366.50" x2="58.90" y2="366.50" stroke="#ffd07a" stroke-width="1.3"/>
<text x="63.40" y="360.80" font-size="9.1" font-style="italic">PS1</text>
<text x="63.40" y="370.60" font-size="9.1" font-style="italic">PS2</text>
<clipPath id="k10"><rect x="208.60" y="347.60" width="113.90" height="85.40"/></clipPath>
<polyline fill="none" stroke="#ffd07a" stroke-width="1.30" stroke-linejoin="round" stroke-opacity="1" points="208.60,403.45 208.98,402.73 209.36,402.26 209.74,402.32 210.12,401.92 210.50,402.27 210.89,403.08 211.27,403.68 211.65,403.87 212.03,402.95 212.41,402.88 212.79,403.43 213.17,402.76 213.55,403.36 213.93,403.19 214.31,401.78 214.69,402.96 215.08,403.27 215.46,402.61 215.84,402.44 216.22,402.57 216.60,402.95 216.98,402.30 217.36,402.48 217.74,402.85 218.12,402.39 218.50,402.59 218.89,402.50 219.27,402.26 219.65,402.28 220.03,403.10 220.41,403.81 220.79,403.06 221.17,402.23 221.55,401.81 221.93,402.24 222.31,403.05 222.69,403.47 223.08,403.92 223.46,403.70 223.84,402.75 224.22,402.59 224.60,403.36 224.98,403.37 225.36,402.80 225.74,403.04 226.12,402.52 226.50,402.07 226.88,402.21 227.27,402.33 227.65,403.11 228.03,402.74 228.41,401.96 228.79,402.59 229.17,403.50 229.55,402.97 229.93,402.69 230.31,403.43 230.69,403.25 231.08,402.61 231.46,402.85 231.84,403.05 232.22,402.40 232.60,402.13 232.98,403.08 233.36,403.09 233.74,401.85 234.12,401.77 234.50,402.47 234.88,402.67 235.27,403.23 235.65,403.59 236.03,403.20 236.41,402.20 236.79,402.00 237.17,403.15 237.55,402.52 237.93,401.69 238.31,402.93 238.69,403.47 239.07,403.49 239.46,403.02 239.84,403.24 240.22,402.93 240.60,402.48 240.98,403.57 241.36,402.38 241.74,401.79 242.12,402.45 242.50,402.33 242.88,402.83 243.27,402.82 243.65,402.56 244.03,402.69 244.41,402.50 244.79,402.18 245.17,402.74 245.55,403.78 245.93,403.06 246.31,401.65 246.69,401.69 247.07,402.64 247.46,402.59 247.84,402.98 248.22,403.20 248.60,403.38 248.98,403.37 249.36,402.47 249.74,401.88 250.12,402.34 250.50,402.62 250.88,401.93 251.26,402.67 251.65,403.28 252.03,403.58 252.41,403.80 252.79,402.95 253.17,403.38 253.55,403.65 253.93,402.62 254.31,401.97 254.69,403.18 255.07,403.57 255.46,402.87 255.84,403.87 256.22,404.02 256.60,402.94 256.98,402.57 257.36,402.53 257.74,402.63 258.12,402.65 258.50,402.90 258.88,403.51 259.26,403.21 259.65,403.50 260.03,402.97 260.41,402.41 260.79,403.24 261.17,403.47 261.55,403.47 261.93,403.10 262.31,402.87 262.69,402.60 263.07,402.89 263.45,403.24 263.84,403.37 264.13,403.52 264.22,402.45 264.44,402.32 264.60,402.49 264.75,402.47 264.98,403.21 265.07,403.52 265.36,405.77 265.38,405.83 265.69,412.77 265.74,412.88 266.01,418.70 266.12,422.17 266.32,427.93 266.50,430.15 266.64,430.12 266.88,429.28 266.95,429.21 267.26,429.66 267.26,429.89 267.58,430.04 267.65,430.00 267.89,430.46 268.03,429.94 268.20,429.71 268.41,429.80 268.52,429.87 268.79,430.17 268.83,430.19 269.15,429.89 269.17,430.20 269.46,429.96 269.55,429.55 269.77,430.04 269.93,429.62 270.09,429.55 270.31,430.75 270.40,430.07 270.69,429.49 270.71,429.42 271.03,429.12 271.07,430.00 271.34,429.74 271.45,429.23 271.66,429.31 271.84,429.46 271.97,429.23 272.22,428.89 272.28,429.60 272.60,430.52 272.60,430.41 272.91,429.82 272.98,430.17 273.22,430.27 273.36,429.34 273.54,429.44 273.74,429.58 273.85,429.75 274.12,430.54 274.16,429.84 274.48,429.54 274.50,429.81 274.79,429.36 274.88,428.83 275.11,429.68 275.26,430.07 275.42,429.52 275.64,429.69 275.73,429.10 276.03,429.24 276.05,430.14 276.36,429.86 276.41,430.40 276.67,430.45 276.79,430.03 276.99,430.04 277.17,429.98 277.30,429.92 277.55,429.73 277.62,430.19 277.93,429.89 277.93,429.34 278.24,430.15 278.31,430.91 278.56,430.41 278.69,430.07 278.87,429.47 279.07,428.74 279.18,429.05 279.45,429.24 279.50,429.54 279.81,430.46 279.84,430.23 280.13,430.37 280.22,429.87 280.44,429.12 280.60,429.29 280.75,429.63 280.98,430.68 281.07,430.51 281.36,429.72 281.38,429.73 281.69,430.10 281.74,429.99 282.01,429.87 282.12,429.38 282.32,429.80 282.50,431.15 282.63,430.69 282.88,429.76 283.26,430.31 283.64,430.42 284.03,429.68 284.41,429.54 284.79,429.59 285.17,430.00 285.55,430.66 285.93,430.02 286.31,429.60 286.69,430.47 287.07,429.76 287.45,428.97 287.83,430.61 288.22,429.92 288.60,428.81 288.98,430.38 289.36,430.07 289.74,429.35 290.12,429.24 290.50,429.36 290.88,430.45 291.26,430.52 291.64,430.05 292.03,429.88 292.41,429.79 292.79,429.69 293.17,430.08 293.55,430.49 293.93,430.23 294.31,429.87 294.69,430.32 295.07,430.47 295.45,428.93 295.83,429.60 296.22,430.11 296.60,429.40 296.98,429.42 297.36,429.44 297.74,429.71 298.12,429.60 298.50,429.52 298.88,430.11 299.26,430.33 299.64,429.20 300.02,428.61 300.41,429.61 300.79,430.50 301.17,430.25 301.55,429.50 301.93,429.09 302.31,429.71 302.69,430.94 303.07,430.74 303.45,430.47 303.83,430.00 304.22,428.82 304.60,429.02 304.98,429.36 305.36,429.39 305.74,428.93 306.12,428.73 306.50,428.88 306.88,429.72 307.26,430.46 307.64,430.03 308.02,430.67 308.41,430.77 308.79,429.95 309.17,429.86 309.55,428.91 309.93,428.96 310.31,429.98 310.69,429.95 311.07,430.01 311.45,430.50 311.83,429.95 312.21,429.40 312.60,429.69 312.98,429.68 313.36,430.11 313.74,430.73 314.12,430.54 314.50,429.74 314.88,429.68 315.26,429.60 315.64,429.85 316.02,430.24 316.41,429.89 316.79,429.81 317.17,429.80 317.55,429.22 317.93,429.45 318.31,429.94 318.69,430.03 319.07,429.87 319.45,429.54 319.83,430.03 320.21,430.49 320.60,430.66 320.98,430.39 321.36,429.88 321.74,429.96 322.12,430.06 322.50,429.82" clip-path="url(#k10)"/>
<polyline fill="none" stroke="#d0ea6e" stroke-width="1.30" stroke-linejoin="round" stroke-opacity="1" points="208.60,416.32 208.98,416.61 209.36,416.85 209.74,416.44 210.12,415.91 210.50,415.51 210.89,416.07 211.27,416.59 211.65,416.53 212.03,417.09 212.41,417.14 212.79,416.12 213.17,416.46 213.55,415.79 213.93,414.93 214.31,415.36 214.69,415.66 215.08,417.21 215.46,417.12 215.84,415.62 216.22,415.99 216.60,416.12 216.98,415.62 217.36,415.81 217.74,415.81 218.12,415.89 218.50,415.93 218.89,415.69 219.27,415.78 219.65,415.99 220.03,415.99 220.41,416.18 220.79,416.66 221.17,417.40 221.55,417.46 221.93,417.24 222.31,417.42 222.69,416.67 223.08,416.25 223.46,416.02 223.84,414.75 224.22,414.94 224.60,416.27 224.98,416.42 225.36,416.32 225.74,416.36 226.12,415.51 226.50,415.00 226.88,415.30 227.27,415.81 227.65,415.62 228.03,415.41 228.41,415.74 228.79,416.51 229.17,417.07 229.55,416.55 229.93,416.41 230.31,416.67 230.69,417.33 231.08,417.42 231.46,416.72 231.84,416.31 232.22,416.67 232.60,416.84 232.98,415.77 233.36,415.66 233.74,417.06 234.12,417.19 234.50,416.46 234.88,415.90 235.27,415.83 235.65,415.79 236.03,415.74 236.41,415.82 236.79,415.44 237.17,415.30 237.55,415.73 237.93,416.07 238.31,414.69 238.69,415.40 239.07,416.79 239.46,416.13 239.84,416.47 240.22,416.33 240.60,416.13 240.98,416.14 241.36,416.01 241.74,416.68 242.12,416.36 242.50,415.23 242.88,415.27 243.27,415.94 243.65,416.92 244.03,416.90 244.41,416.28 244.79,416.70 245.17,417.40 245.55,416.93 245.93,415.86 246.31,415.75 246.69,415.27 247.07,416.27 247.46,416.99 247.84,416.27 248.22,415.87 248.60,415.87 248.98,416.76 249.36,416.77 249.74,416.25 250.12,416.51 250.50,416.96 250.88,416.58 251.26,415.96 251.65,416.15 252.03,416.30 252.41,416.40 252.79,416.71 253.17,416.44 253.55,415.95 253.93,415.42 254.31,415.83 254.69,416.26 255.07,415.48 255.46,415.34 255.84,416.20 256.22,416.36 256.60,416.76 256.98,417.72 257.36,417.48 257.74,416.95 258.12,417.16 258.50,416.49 258.88,416.16 259.26,416.52 259.65,416.33 260.03,416.44 260.41,416.90 260.79,416.08 261.17,416.38 261.55,417.14 261.93,416.14 262.31,416.21 262.69,416.50 263.07,416.31 263.45,416.18 263.84,416.43 264.13,416.11 264.22,415.79 264.44,415.63 264.60,415.79 264.75,417.09 264.98,417.76 265.07,417.21 265.36,416.40 265.38,416.82 265.69,408.91 265.74,405.22 266.01,389.50 266.12,383.76 266.32,372.41 266.50,361.77 266.64,354.23 266.88,351.35 266.95,351.43 267.26,351.23 267.26,350.38 267.58,349.92 267.65,351.01 267.89,350.68 268.03,350.25 268.20,351.64 268.41,352.16 268.52,351.59 268.79,350.93 268.83,351.22 269.15,351.62 269.17,351.46 269.46,351.05 269.55,350.72 269.77,350.61 269.93,351.74 270.09,352.18 270.31,351.20 270.40,350.83 270.69,350.63 270.71,351.34 271.03,351.05 271.07,350.94 271.34,351.60 271.45,351.32 271.66,351.42 271.84,351.54 271.97,351.06 272.22,350.47 272.28,350.64 272.60,351.42 272.60,351.79 272.91,351.33 272.98,350.94 273.22,351.13 273.36,351.38 273.54,350.17 273.74,350.05 273.85,351.16 274.12,352.10 274.16,352.27 274.48,350.75 274.50,350.14 274.79,351.19 274.88,351.21 275.11,350.71 275.26,351.31 275.42,351.08 275.64,351.01 275.73,351.41 276.03,351.18 276.05,350.98 276.36,351.16 276.41,351.13 276.67,350.96 276.79,351.00 276.99,350.85 277.17,351.16 277.30,351.83 277.55,351.62 277.62,350.63 277.93,350.48 277.93,350.86 278.24,351.26 278.31,351.78 278.56,351.97 278.69,351.88 278.87,351.56 279.07,351.80 279.18,351.70 279.45,351.71 279.50,351.42 279.81,377.53 279.84,380.46 280.13,405.75 280.22,412.84 280.44,429.60 280.60,429.39 280.75,429.67 280.98,430.02 281.07,429.97 281.36,429.71 281.38,429.89 281.69,430.15 281.74,429.83 282.01,429.90 282.12,430.37 282.32,429.73 282.50,429.13 282.63,429.98 282.88,429.42 283.26,429.37 283.64,430.44 284.03,430.29 284.41,429.76 284.79,429.07 285.17,428.75 285.55,429.10 285.93,429.60 286.31,429.55 286.69,429.88 287.07,430.39 287.45,429.89 287.83,429.55 288.22,429.66 288.60,430.12 288.98,430.11 289.36,430.27 289.74,430.01 290.12,429.47 290.50,430.07 290.88,430.25 291.26,428.95 291.64,427.61 292.03,428.93 292.41,429.58 292.79,430.42 293.17,430.51 293.55,429.40 293.93,429.72 294.31,430.09 294.69,430.68 295.07,430.23 295.45,429.90 295.83,429.80 296.22,429.24 296.60,429.48 296.98,429.67 297.36,429.56 297.74,429.67 298.12,429.94 298.50,429.93 298.88,429.57 299.26,429.63 299.64,429.97 300.02,430.54 300.41,430.77 300.79,429.65 301.17,428.86 301.55,429.33 301.93,429.61 302.31,429.77 302.69,429.62 303.07,429.21 303.45,429.56 303.83,429.81 304.22,429.35 304.60,430.05 304.98,430.77 305.36,430.39 305.74,430.48 306.12,430.43 306.50,430.31 306.88,430.29 307.26,429.79 307.64,430.08 308.02,430.23 308.41,429.27 308.79,429.24 309.17,430.21 309.55,430.51 309.93,429.62 310.31,429.49 310.69,430.16 311.07,429.76 311.45,429.80 311.83,430.51 312.21,430.02 312.60,429.59 312.98,430.06 313.36,429.89 313.74,429.24 314.12,429.01 314.50,429.38 314.88,429.62 315.26,429.47 315.64,430.20 316.02,429.77 316.41,429.46 316.79,430.28 317.17,430.34 317.55,430.50 317.93,429.77 318.31,429.41 318.69,430.04 319.07,430.73 319.45,430.44 319.83,429.78 320.21,430.23 320.60,430.25 320.98,430.55 321.36,430.27 321.74,430.04 322.12,430.10 322.50,429.60" clip-path="url(#k10)"/>
<rect x="208.60" y="347.60" width="113.90" height="85.40" fill="none" stroke="#6a6a6a" stroke-width="1"/>
<path d="M208.60 433.00v-2.30M208.60 347.60v2.30M237.07 433.00v-2.30M237.07 347.60v2.30M265.55 433.00v-2.30M265.55 347.60v2.30M294.02 433.00v-2.30M294.02 347.60v2.30M322.50 433.00v-2.30M322.50 347.60v2.30M208.60 429.84h2.30M322.50 429.84h-2.30M208.60 398.21h2.30M322.50 398.21h-2.30M208.60 366.58h2.30M322.50 366.58h-2.30" stroke="#6a6a6a" stroke-width="1" fill="none"/>
<path d="M222.84 433.00v-1.60M222.84 347.60v1.60M251.31 433.00v-1.60M251.31 347.60v1.60M279.79 433.00v-1.60M279.79 347.60v1.60M308.26 433.00v-1.60M308.26 347.60v1.60M208.60 414.02h1.60M322.50 414.02h-1.60M208.60 382.39h1.60M322.50 382.39h-1.60M208.60 350.76h1.60M322.50 350.76h-1.60" stroke="#6a6a6a" stroke-width="0.9" fill="none"/>
<text x="208.60" y="445.90" font-size="10.20" text-anchor="middle">−0.2</text>
<text x="237.07" y="445.90" font-size="10.20" text-anchor="middle">−0.1</text>
<text x="265.55" y="445.90" font-size="10.20" text-anchor="middle">0.0</text>
<text x="294.02" y="445.90" font-size="10.20" text-anchor="middle">0.1</text>
<text x="322.50" y="445.90" font-size="10.20" text-anchor="middle">0.2</text>
<text x="204.00" y="434.04" font-size="10.20" text-anchor="end">0</text>
<text x="204.00" y="402.41" font-size="10.20" text-anchor="end">2</text>
<text x="204.00" y="370.78" font-size="10.20" text-anchor="end">4</text>
<text x="265.55" y="462.10" font-size="10.60" text-anchor="middle">Time [µs]</text>
<text x="183.70" y="390.30" font-size="10.60" text-anchor="middle" transform="rotate(-90 183.70 390.30)">Voltage [V]</text>
<line x1="217.60" y1="356.50" x2="229.90" y2="356.50" stroke="#d0ea6e" stroke-width="1.3"/>
<line x1="217.60" y1="366.50" x2="229.90" y2="366.50" stroke="#ffd07a" stroke-width="1.3"/>
<text x="234.40" y="360.80" font-size="9.1" font-style="italic">PS1</text>
<text x="234.40" y="370.60" font-size="9.1" font-style="italic">PS2</text>
<clipPath id="k11"><rect x="393.20" y="347.60" width="113.70" height="85.40"/></clipPath>
<line x1="393.50" y1="419.86" x2="506.90" y2="419.86" stroke="#b0b0b0" stroke-width="1" stroke-dasharray="4.8 3.25"/>
<line x1="393.50" y1="367.31" x2="506.90" y2="367.31" stroke="#b0b0b0" stroke-width="1" stroke-dasharray="4.8 3.25"/>
<line x1="449.91" y1="432.70" x2="449.91" y2="347.60" stroke="#b0b0b0" stroke-width="1" stroke-dasharray="4.8 3.25"/>
<line x1="454.88" y1="432.70" x2="454.88" y2="347.60" stroke="#b0b0b0" stroke-width="1" stroke-dasharray="4.8 3.25"/>
<polyline fill="none" stroke="#c8e6c2" stroke-width="1.10" stroke-linejoin="round" stroke-opacity="1" points="393.20,426.60 393.30,427.57 393.41,426.81 393.51,427.64 393.61,426.75 393.72,425.75 393.82,426.10 393.92,427.48 394.03,425.16 394.13,426.00 394.23,425.14 394.34,424.40 394.44,427.10 394.54,424.00 394.65,424.77 394.75,426.93 394.86,425.00 394.96,424.53 395.06,424.63 395.17,424.55 395.27,424.63 395.37,426.84 395.48,425.06 395.58,426.52 395.68,426.78 395.79,425.01 395.89,425.12 395.99,424.88 396.10,427.00 396.20,425.17 396.30,427.91 396.41,426.25 396.51,426.30 396.61,426.08 396.72,427.94 396.82,427.42 396.92,426.40 397.03,426.55 397.13,424.91 397.23,426.60 397.34,424.25 397.44,426.56 397.55,425.40 397.65,423.72 397.75,425.82 397.86,424.58 397.96,424.90 398.06,425.55 398.17,427.65 398.27,424.94 398.37,426.53 398.48,426.28 398.58,426.24 398.68,425.96 398.79,425.63 398.89,427.19 398.99,423.10 399.10,424.78 399.20,427.96 399.30,424.11 399.41,424.97 399.51,425.32 399.61,425.29 399.72,425.45 399.82,424.53 399.92,426.46 400.03,423.90 400.13,425.21 400.24,425.91 400.34,426.91 400.44,425.69 400.55,424.06 400.65,427.11 400.75,426.05 400.86,426.72 400.96,426.70 401.06,425.78 401.17,423.78 401.27,427.23 401.37,427.23 401.48,426.41 401.58,426.87 401.68,426.93 401.79,425.43 401.89,425.66 401.99,424.30 402.10,424.53 402.20,424.36 402.30,424.94 402.41,425.86 402.51,426.53 402.61,426.54 402.72,425.43 402.82,425.40 402.93,427.05 403.03,423.90 403.13,425.18 403.24,426.28 403.34,424.57 403.44,426.96 403.55,424.49 403.65,426.36 403.75,424.24 403.86,426.78 403.96,423.91 404.06,424.36 404.17,424.78 404.27,427.07 404.37,426.76 404.48,427.36 404.58,426.91 404.68,427.31 404.79,425.02 404.89,426.63 404.99,425.00 405.10,426.06 405.20,426.74 405.30,428.75 405.41,425.20 405.51,425.09 405.61,423.93 405.72,424.06 405.82,424.62 405.93,427.57 406.03,425.45 406.13,423.43 406.24,425.43 406.34,426.67 406.44,426.14 406.55,424.77 406.65,426.57 406.75,426.05 406.86,425.07 406.96,426.43 407.06,424.84 407.17,426.08 407.27,426.95 407.37,426.48 407.48,426.08 407.58,424.68 407.68,426.06 407.79,424.00 407.89,423.59 407.99,425.36 408.10,427.42 408.20,424.58 408.30,427.17 408.41,422.93 408.51,424.70 408.62,424.69 408.72,427.54 408.82,423.95 408.93,423.81 409.03,426.89 409.13,425.75 409.24,426.90 409.34,426.01 409.44,425.79 409.55,423.67 409.65,425.54 409.75,425.62 409.86,427.03 409.96,427.68 410.06,424.65 410.17,427.47 410.27,424.84 410.37,427.28 410.48,425.77 410.58,426.89 410.68,423.82 410.79,427.02 410.89,425.81 410.99,425.09 411.10,426.98 411.20,428.17 411.31,427.08 411.41,425.68 411.51,422.86 411.62,426.67 411.72,426.88 411.82,425.08 411.93,425.84 412.03,424.74 412.13,427.05 412.24,423.43 412.34,426.60 412.44,425.70 412.55,425.19 412.65,423.54 412.75,425.48 412.86,424.41 412.96,425.37 413.06,425.46 413.17,425.37 413.27,423.99 413.37,426.83 413.48,425.16 413.58,427.14 413.68,426.64 413.79,426.11 413.89,424.21 413.99,425.19 414.10,426.14 414.20,424.08 414.31,424.13 414.41,427.08 414.51,425.86 414.62,426.42 414.72,425.97 414.82,424.46 414.93,425.53 415.03,424.42 415.13,425.26 415.24,426.44 415.34,425.14 415.44,425.99 415.55,426.45 415.65,425.01 415.75,424.79 415.86,425.48 415.96,426.97 416.06,424.34 416.17,426.94 416.27,425.10 416.37,427.83 416.48,425.05 416.58,425.82 416.68,427.38 416.79,424.48 416.89,427.10 417.00,424.91 417.10,423.58 417.20,423.67 417.31,425.16 417.41,427.31 417.51,423.96 417.62,423.69 417.72,423.63 417.82,423.57 417.93,427.72 418.03,424.38 418.13,427.15 418.24,425.75 418.34,424.49 418.44,424.03 418.55,427.37 418.65,426.73 418.75,424.19 418.86,425.04 418.96,427.22 419.06,426.53 419.17,424.11 419.27,426.79 419.37,423.19 419.48,426.35 419.58,427.39 419.69,425.43 419.79,424.38 419.89,423.41 420.00,425.61 420.10,424.08 420.20,426.55 420.31,423.66 420.41,426.89 420.51,425.87 420.62,425.89 420.72,427.50 420.82,424.36 420.93,424.60 421.03,425.53 421.13,424.84 421.24,425.78 421.34,426.22 421.44,424.73 421.55,424.86 421.65,425.45 421.75,427.60 421.86,425.32 421.96,425.07 422.06,425.67 422.17,424.34 422.27,424.13 422.38,423.55 422.48,426.70 422.58,424.33 422.69,425.89 422.79,424.27 422.89,424.24 423.00,424.71 423.10,427.34 423.20,424.63 423.31,425.70 423.41,427.84 423.51,425.47 423.62,425.11 423.72,426.46 423.82,426.95 423.93,426.64 424.03,427.98 424.13,426.71 424.24,424.61 424.34,425.33 424.44,424.42 424.55,425.41 424.65,426.00 424.75,424.74 424.86,426.19 424.96,423.82 425.06,427.47 425.17,425.54 425.27,423.43 425.38,425.30 425.48,425.66 425.58,427.71 425.69,423.84 425.79,427.84 425.89,424.43 426.00,424.66 426.10,425.38 426.20,425.78 426.31,426.67 426.41,424.18 426.51,425.83 426.62,424.18 426.72,426.36 426.82,422.90 426.93,425.69 427.03,426.78 427.13,424.42 427.24,425.65 427.34,424.03 427.44,425.87 427.55,425.83 427.65,425.62 427.75,426.58 427.86,426.74 427.96,425.96 428.07,426.15 428.17,426.65 428.27,426.32 428.38,424.06 428.48,425.24 428.58,425.47 428.69,427.28 428.79,427.85 428.89,423.39 429.00,425.93 429.10,425.24 429.20,426.44 429.31,427.07 429.41,427.00 429.51,425.05 429.62,427.77 429.72,423.86 429.82,425.37 429.93,427.15 430.03,424.63 430.13,428.10 430.24,426.38 430.34,423.64 430.44,426.61 430.55,427.17 430.65,426.84 430.76,426.87 430.86,424.28 430.96,427.53 431.07,424.45 431.17,427.19 431.27,425.14 431.38,425.57 431.48,425.86 431.58,425.22 431.69,423.44 431.79,424.19 431.89,426.00 432.00,426.86 432.10,423.23 432.20,426.77 432.31,424.99 432.41,424.27 432.51,426.56 432.62,425.81 432.72,426.44 432.82,424.97 432.93,426.14 433.03,424.52 433.13,425.22 433.24,424.57 433.34,426.62 433.45,427.00 433.55,424.57 433.65,423.95 433.76,426.93 433.86,424.70 433.96,426.42 434.07,425.82 434.17,427.01 434.27,427.32 434.38,426.52 434.48,424.83 434.58,424.16 434.69,426.53 434.79,424.77 434.89,426.27 435.00,427.33 435.10,426.48 435.20,426.55 435.31,427.16 435.41,426.35 435.51,424.62 435.62,424.53 435.72,427.04 435.82,423.58 435.93,424.76 436.03,427.26 436.13,423.97 436.24,427.17 436.34,424.37 436.45,425.62 436.55,425.09 436.65,426.68 436.76,424.90 436.86,423.65 436.96,424.81 437.07,424.94 437.17,425.28 437.27,426.11 437.38,426.12 437.48,423.91 437.58,425.67 437.69,427.30 437.79,427.36 437.89,426.92 438.00,427.27 438.10,426.18 438.20,426.91 438.31,426.01 438.41,425.08 438.51,426.06 438.62,424.79 438.72,425.31 438.82,427.22 438.93,425.70 439.03,428.25 439.14,425.56 439.24,425.65 439.34,427.49 439.45,426.62 439.55,428.55 439.65,426.96 439.76,426.32 439.86,423.97 439.96,425.83 440.07,425.81 440.17,424.82 440.27,423.83 440.38,424.89 440.48,426.48 440.58,426.01 440.69,425.83 440.79,427.73 440.89,426.66 441.00,426.21 441.10,425.54 441.20,423.23 441.31,427.23 441.41,428.08 441.51,426.61 441.62,427.27 441.72,425.74 441.83,423.95 441.93,426.49 442.03,424.87 442.14,426.08 442.24,425.62 442.34,426.15 442.45,425.59 442.55,424.37 442.65,427.85 442.76,427.30 442.86,426.77 442.96,427.27 443.07,425.18 443.17,426.12 443.27,426.96 443.38,425.72 443.48,424.28 443.58,424.89 443.69,424.48 443.79,427.69 443.89,423.86 444.00,426.03 444.10,424.89 444.20,424.30 444.31,427.73 444.41,423.71 444.52,425.48 444.62,422.95 444.72,425.38 444.83,425.11 444.93,423.73 445.03,423.55 445.14,424.39 445.24,426.59 445.34,425.36 445.45,424.65 445.55,427.45 445.65,424.36 445.76,424.40 445.86,424.26 445.96,424.47 446.07,424.79 446.17,425.15 446.27,425.15 446.38,427.38 446.48,425.33 446.58,425.70 446.69,425.30 446.79,427.14 446.89,426.02 447.00,424.63 447.10,427.02 447.20,426.81 447.31,426.24 447.41,422.75 447.52,424.51 447.62,424.12 447.72,426.23 447.83,427.84 447.93,425.30 448.03,424.76 448.14,423.50 448.24,424.13 448.34,426.44 448.45,424.96 448.55,425.08 448.65,426.30 448.76,426.12 448.86,425.91 448.96,423.95 449.07,425.01 449.17,424.72 449.27,424.25 449.38,424.19 449.48,421.30 449.58,412.03 449.69,400.99 449.79,391.79 449.89,385.26 450.00,375.78 450.10,366.98 450.21,360.56 450.31,350.20 450.41,343.55 450.52,344.25 450.62,345.03 450.72,342.75 450.83,344.61 450.93,344.62 451.03,343.88 451.14,344.65 451.24,345.01 451.34,342.52 451.45,344.09 451.55,354.40 451.65,357.77 451.76,366.95 451.86,374.57 451.96,380.87 452.07,386.68 452.17,392.55 452.27,401.36 452.38,408.97 452.48,415.73 452.58,414.71 452.69,417.84 452.79,414.57 452.90,413.79 453.00,415.03 453.10,415.76 453.21,416.26 453.31,414.43 453.41,415.77 453.52,415.37 453.62,416.11 453.72,414.67 453.83,409.76 453.93,403.21 454.03,394.66 454.14,390.81 454.24,386.90 454.34,379.37 454.45,373.89 454.55,369.81 454.65,361.83 454.76,355.87 454.86,350.32 454.96,344.62 455.07,342.01 455.17,343.69 455.27,345.57 455.38,344.55 455.48,346.20 455.58,343.54 455.69,340.87 455.79,344.30 455.90,344.22 456.00,342.19 456.10,342.08 456.21,343.78 456.31,343.21 456.41,342.79 456.52,341.55 456.62,343.42 456.72,344.03 456.83,344.01 456.93,345.38 457.03,342.01 457.14,343.63 457.24,342.97 457.34,343.99 457.45,346.77 457.55,346.64 457.65,346.11 457.76,348.70 457.86,346.15 457.96,348.49 458.07,348.95 458.17,349.55 458.27,348.50 458.38,348.93 458.48,351.33 458.59,348.03 458.69,351.19 458.79,351.02 458.90,351.35 459.00,349.54 459.10,350.65 459.21,351.38 459.31,352.93 459.41,352.90 459.52,351.17 459.62,352.62 459.72,354.60 459.83,354.74 459.93,354.49 460.03,355.26 460.14,354.27 460.24,357.20 460.34,355.73 460.45,356.47 460.55,357.43 460.65,357.49 460.76,355.93 460.86,354.78 460.96,357.74 461.07,355.68 461.17,356.76 461.28,357.32 461.38,356.40 461.48,357.99 461.59,357.82 461.69,359.55 461.79,357.87 461.90,359.85 462.00,358.72 462.10,359.58 462.21,360.20 462.31,359.64 462.41,358.89 462.52,359.65 462.62,359.60 462.72,363.28 462.83,362.20 462.93,363.22 463.03,361.43 463.14,359.76 463.24,360.26 463.34,362.95 463.45,359.73 463.55,361.67 463.65,361.02 463.76,360.36 463.86,363.76 463.97,361.25 464.07,360.99 464.17,362.68 464.28,361.23 464.38,363.94 464.48,364.73 464.59,362.17 464.69,364.45 464.79,366.79 464.90,362.53 465.00,364.82 465.10,361.75 465.21,364.77 465.31,362.50 465.41,364.72 465.52,363.97 465.62,363.38 465.72,365.32 465.83,364.00 465.93,364.39 466.03,362.86 466.14,364.79 466.24,365.84 466.34,364.57 466.45,365.08 466.55,366.47 466.65,365.67 466.76,363.07 466.86,366.71 466.97,364.53 467.07,366.99 467.17,367.13 467.28,365.29 467.38,364.85 467.48,367.05 467.59,366.46 467.69,366.05 467.79,368.18 467.90,366.69 468.00,365.90 468.10,366.13 468.21,366.95 468.31,365.24 468.41,366.14 468.52,366.68 468.62,364.37 468.72,366.12 468.83,369.03 468.93,367.89 469.03,367.10 469.14,366.35 469.24,366.21 469.34,365.30 469.45,368.35 469.55,364.72 469.66,366.58 469.76,366.46 469.86,367.79 469.97,368.02 470.07,367.73 470.17,366.31 470.28,366.41 470.38,367.47 470.48,363.73 470.59,367.64 470.69,365.99 470.79,366.73 470.90,366.97 471.00,366.66 471.10,365.86 471.21,365.12 471.31,368.29 471.41,366.94 471.52,368.06 471.62,367.01 471.72,364.42 471.83,367.71 471.93,368.66 472.03,365.27 472.14,367.69 472.24,368.02 472.35,364.98 472.45,368.29 472.55,365.80 472.66,367.03 472.76,366.34 472.86,365.82 472.97,368.70 473.07,365.16 473.17,365.71 473.28,365.86 473.38,365.02 473.48,366.31 473.59,367.39 473.69,368.35 473.79,367.36 473.90,367.28 474.00,365.88 474.10,366.74 474.21,367.73 474.31,368.29 474.41,366.62 474.52,367.83 474.62,364.90 474.72,368.36 474.83,366.88 474.93,365.26 475.04,368.41 475.14,365.70 475.24,364.62 475.35,368.42 475.45,364.91 475.55,366.65 475.66,366.88 475.76,367.26 475.86,366.79 475.97,367.10 476.07,368.33 476.17,368.81 476.28,365.24 476.38,367.71 476.48,365.47 476.59,364.78 476.69,365.35 476.79,365.42 476.90,365.86 477.00,366.21 477.10,365.28 477.21,364.99 477.31,367.07 477.41,366.48 477.52,366.80 477.62,367.64 477.72,368.16 477.83,366.58 477.93,365.26 478.04,365.11 478.14,364.60 478.24,367.64 478.35,364.74 478.45,366.75 478.55,367.33 478.66,366.98 478.76,365.07 478.86,368.41 478.97,365.39 479.07,364.27 479.17,366.71 479.28,366.99 479.38,363.07 479.48,367.30 479.59,364.84 479.69,367.09 479.79,367.11 479.90,364.48 480.00,365.13 480.10,366.61 480.21,365.02 480.31,366.86 480.41,364.79 480.52,363.87 480.62,365.31 480.73,364.99 480.83,366.94 480.93,364.31 481.04,363.39 481.14,366.31 481.24,365.35 481.35,366.38 481.45,364.31 481.55,365.84 481.66,364.09 481.76,363.31 481.86,364.20 481.97,362.69 482.07,363.52 482.17,365.24 482.28,366.14 482.38,366.06 482.48,364.36 482.59,364.88 482.69,365.76 482.79,364.37 482.90,364.87 483.00,363.03 483.10,364.88 483.21,363.19 483.31,365.52 483.42,365.14 483.52,362.98 483.62,363.63 483.73,362.63 483.83,362.84 483.93,364.02 484.04,361.90 484.14,364.18 484.24,363.97 484.35,363.83 484.45,363.24 484.55,364.69 484.66,365.00 484.76,363.97 484.86,362.97 484.97,363.93 485.07,364.67 485.17,365.33 485.28,364.67 485.38,363.10 485.48,361.62 485.59,363.94 485.69,362.72 485.79,362.70 485.90,364.35 486.00,363.37 486.11,363.46 486.21,362.70 486.31,364.93 486.42,362.50 486.52,364.92 486.62,362.19 486.73,363.87 486.83,361.71 486.93,363.64 487.04,362.29 487.14,363.02 487.24,362.66 487.35,363.88 487.45,363.01 487.55,364.87 487.66,364.58 487.76,361.80 487.86,364.23 487.97,364.38 488.07,362.72 488.17,362.26 488.28,362.29 488.38,361.74 488.48,364.01 488.59,361.60 488.69,364.16 488.79,364.67 488.90,361.70 489.00,361.74 489.11,362.42 489.21,363.11 489.31,361.82 489.42,363.69 489.52,362.41 489.62,360.53 489.73,361.20 489.83,362.77 489.93,364.58 490.04,361.95 490.14,363.89 490.24,361.16 490.35,361.94 490.45,362.55 490.55,362.09 490.66,361.82 490.76,364.05 490.86,361.95 490.97,362.39 491.07,363.05 491.17,362.66 491.28,362.28 491.38,359.54 491.48,360.63 491.59,361.49 491.69,361.12 491.80,360.77 491.90,362.89 492.00,362.72 492.11,361.97 492.21,364.44 492.31,361.75 492.42,361.88 492.52,361.87 492.62,363.11 492.73,362.33 492.83,364.48 492.93,362.92 493.04,360.52 493.14,362.72 493.24,362.66 493.35,362.72 493.45,363.74 493.55,360.39 493.66,359.66 493.76,361.71 493.86,361.70 493.97,361.48 494.07,362.71 494.17,361.75 494.28,361.25 494.38,361.77 494.49,363.41 494.59,361.86 494.69,361.13 494.80,360.60 494.90,363.48 495.00,360.58 495.11,361.32 495.21,360.58 495.31,362.19 495.42,361.81 495.52,362.07 495.62,363.94 495.73,362.00 495.83,361.30 495.93,363.11 496.04,361.49 496.14,361.77 496.24,360.85 496.35,359.84 496.45,362.19 496.55,360.25 496.66,362.07 496.76,360.30 496.86,362.13 496.97,361.80 497.07,360.32 497.17,362.63 497.28,361.87 497.38,362.05 497.49,362.71 497.59,360.00 497.69,360.56 497.80,361.56 497.90,361.65 498.00,360.70 498.11,363.48 498.21,360.08 498.31,361.45 498.42,360.73 498.52,360.67 498.62,362.91 498.73,361.22 498.83,362.43 498.93,361.91 499.04,362.64 499.14,361.67 499.24,359.74 499.35,360.31 499.45,358.96 499.55,362.36 499.66,363.06 499.76,360.65 499.86,360.88 499.97,362.43 500.07,361.68 500.18,359.42 500.28,360.18 500.38,362.36 500.49,360.32 500.59,359.36 500.69,358.96 500.80,361.55 500.90,359.88 501.00,359.32 501.11,362.04 501.21,361.04 501.31,360.98 501.42,359.37 501.52,360.68 501.62,359.84 501.73,360.85 501.83,361.54 501.93,361.13 502.04,358.29 502.14,360.33 502.24,362.17 502.35,363.30 502.45,358.80 502.55,362.32 502.66,361.05 502.76,359.40 502.87,358.96 502.97,360.91 503.07,358.79 503.18,360.83 503.28,359.23 503.38,360.69 503.49,363.28 503.59,361.55 503.69,359.35 503.80,358.42 503.90,361.34 504.00,361.74 504.11,359.81 504.21,358.51 504.31,360.86 504.42,361.93 504.52,358.02 504.62,358.41 504.73,358.58 504.83,359.94 504.93,358.30 505.04,361.81 505.14,359.76 505.24,359.79 505.35,357.98 505.45,359.47 505.56,360.87 505.66,362.48 505.76,359.28 505.87,359.26 505.97,361.94 506.07,358.19 506.18,360.66 506.28,358.33 506.38,360.34 506.49,360.84 506.59,361.44 506.69,361.87 506.80,360.86 506.90,359.76" clip-path="url(#k11)"/>
<rect x="393.20" y="347.60" width="113.70" height="85.40" fill="none" stroke="#6a6a6a" stroke-width="1"/>
<path d="M393.20 433.00v-2.30M393.20 347.60v2.30M421.62 433.00v-2.30M421.62 347.60v2.30M450.05 433.00v-2.30M450.05 347.60v2.30M478.48 433.00v-2.30M478.48 347.60v2.30M506.90 433.00v-2.30M506.90 347.60v2.30M393.20 426.43h2.30M506.90 426.43h-2.30M393.20 393.58h2.30M506.90 393.58h-2.30M393.20 360.74h2.30M506.90 360.74h-2.30" stroke="#6a6a6a" stroke-width="1" fill="none"/>
<path d="M407.41 433.00v-1.60M407.41 347.60v1.60M435.84 433.00v-1.60M435.84 347.60v1.60M464.26 433.00v-1.60M464.26 347.60v1.60M492.69 433.00v-1.60M492.69 347.60v1.60" stroke="#6a6a6a" stroke-width="0.9" fill="none"/>
<text x="393.20" y="445.90" font-size="10.20" text-anchor="middle">−0.4</text>
<text x="421.62" y="445.90" font-size="10.20" text-anchor="middle">−0.2</text>
<text x="450.05" y="445.90" font-size="10.20" text-anchor="middle">0.0</text>
<text x="478.48" y="445.90" font-size="10.20" text-anchor="middle">0.2</text>
<text x="506.90" y="445.90" font-size="10.20" text-anchor="middle">0.4</text>
<text x="388.60" y="430.63" font-size="10.20" text-anchor="end">0.0</text>
<text x="388.60" y="397.78" font-size="10.20" text-anchor="end">0.5</text>
<text x="388.60" y="364.94" font-size="10.20" text-anchor="end">1.0</text>
<text x="450.05" y="462.10" font-size="10.60" text-anchor="middle">Time [µs]</text>
<text x="364.90" y="390.30" font-size="10.60" text-anchor="middle" transform="rotate(-90 364.90 390.30)">Output [a.u.]</text>
<text x="455.20" y="393.80" font-size="9.5" font-style="italic" fill="#222">τ<tspan font-size="6.3" dx="0.5" dy="3.0">rise</tspan><tspan dy="-3.0">= </tspan>40 ns</text>
<clipPath id="k12"><rect x="564.40" y="347.60" width="113.00" height="85.40"/></clipPath>
<line x1="564.70" y1="419.86" x2="677.40" y2="419.86" stroke="#b0b0b0" stroke-width="1" stroke-dasharray="4.8 3.25"/>
<line x1="564.70" y1="367.31" x2="677.40" y2="367.31" stroke="#b0b0b0" stroke-width="1" stroke-dasharray="4.8 3.25"/>
<line x1="620.90" y1="432.70" x2="620.90" y2="347.60" stroke="#b0b0b0" stroke-width="1" stroke-dasharray="4.8 3.25"/>
<line x1="625.02" y1="432.70" x2="625.02" y2="347.60" stroke="#b0b0b0" stroke-width="1" stroke-dasharray="4.8 3.25"/>
<polyline fill="none" stroke="#c8e6c2" stroke-width="1.10" stroke-linejoin="round" stroke-opacity="1" points="564.40,362.57 564.50,359.56 564.61,360.35 564.71,360.58 564.81,362.98 564.91,361.96 565.02,362.13 565.12,362.12 565.22,361.74 565.33,362.99 565.43,362.22 565.53,361.26 565.63,362.43 565.74,361.46 565.84,361.43 565.94,360.20 566.05,360.86 566.15,360.64 566.25,359.94 566.35,362.00 566.46,360.15 566.56,361.28 566.66,362.00 566.76,360.88 566.87,361.51 566.97,360.05 567.07,359.75 567.18,360.14 567.28,361.08 567.38,360.57 567.48,361.14 567.59,362.17 567.69,359.42 567.79,360.44 567.90,363.78 568.00,359.91 568.10,360.45 568.20,360.82 568.31,361.35 568.41,361.70 568.51,361.94 568.62,362.46 568.72,359.68 568.82,361.66 568.92,361.78 569.03,360.88 569.13,362.91 569.23,361.38 569.34,359.83 569.44,359.49 569.54,362.27 569.64,362.54 569.75,362.75 569.85,360.06 569.95,361.73 570.06,361.37 570.16,361.73 570.26,362.30 570.36,361.15 570.47,363.75 570.57,360.51 570.67,359.31 570.77,360.52 570.88,361.06 570.98,360.91 571.08,359.70 571.19,362.96 571.29,362.80 571.39,359.60 571.49,362.13 571.60,360.20 571.70,360.04 571.80,360.75 571.91,362.01 572.01,361.21 572.11,362.41 572.21,360.43 572.32,361.37 572.42,360.86 572.52,360.58 572.63,361.86 572.73,359.81 572.83,361.26 572.93,361.05 573.04,360.99 573.14,361.18 573.24,361.08 573.35,360.94 573.45,363.59 573.55,360.19 573.65,361.12 573.76,360.08 573.86,362.71 573.96,362.33 574.07,362.21 574.17,362.29 574.27,361.03 574.37,361.68 574.48,361.14 574.58,360.24 574.68,359.75 574.78,361.32 574.89,361.28 574.99,361.13 575.09,360.01 575.20,363.00 575.30,360.24 575.40,362.14 575.50,360.64 575.61,359.84 575.71,360.70 575.81,362.03 575.92,361.87 576.02,363.02 576.12,362.97 576.22,361.84 576.33,361.04 576.43,362.53 576.53,359.93 576.64,361.75 576.74,361.43 576.84,362.49 576.94,360.94 577.05,361.18 577.15,360.74 577.25,361.88 577.36,360.97 577.46,362.80 577.56,362.35 577.66,361.57 577.77,362.25 577.87,362.68 577.97,360.47 578.08,361.94 578.18,359.94 578.28,361.38 578.38,359.97 578.49,361.75 578.59,361.03 578.69,361.12 578.79,358.92 578.90,361.17 579.00,360.56 579.10,361.87 579.21,361.04 579.31,362.45 579.41,360.24 579.51,361.54 579.62,360.11 579.72,362.04 579.82,360.41 579.93,360.20 580.03,359.78 580.13,360.79 580.23,361.28 580.34,360.22 580.44,361.28 580.54,362.15 580.65,360.20 580.75,362.22 580.85,360.82 580.95,363.47 581.06,361.81 581.16,361.15 581.26,363.42 581.37,362.77 581.47,359.93 581.57,363.26 581.67,362.36 581.78,360.76 581.88,361.17 581.98,361.45 582.09,362.74 582.19,360.65 582.29,360.38 582.39,363.28 582.50,361.71 582.60,361.83 582.70,360.72 582.80,362.11 582.91,360.86 583.01,361.60 583.11,359.17 583.22,361.40 583.32,360.41 583.42,361.17 583.52,361.86 583.63,362.69 583.73,362.79 583.83,359.99 583.94,361.03 584.04,362.10 584.14,358.99 584.24,362.56 584.35,360.89 584.45,360.53 584.55,360.74 584.66,362.00 584.76,361.52 584.86,360.93 584.96,361.49 585.07,360.78 585.17,361.02 585.27,363.41 585.38,362.42 585.48,360.66 585.58,361.21 585.68,362.59 585.79,361.46 585.89,361.98 585.99,359.42 586.10,361.44 586.20,362.65 586.30,360.58 586.40,363.09 586.51,361.14 586.61,360.09 586.71,362.36 586.81,362.69 586.92,362.70 587.02,362.14 587.12,360.63 587.23,361.60 587.33,360.74 587.43,360.50 587.53,359.87 587.64,360.90 587.74,360.58 587.84,359.65 587.95,360.45 588.05,360.47 588.15,359.57 588.25,361.07 588.36,359.61 588.46,361.29 588.56,360.94 588.67,363.13 588.77,360.81 588.87,361.92 588.97,361.92 589.08,362.00 589.18,361.82 589.28,361.35 589.39,362.34 589.49,361.92 589.59,360.88 589.69,361.61 589.80,362.43 589.90,362.45 590.00,361.13 590.11,361.76 590.21,361.49 590.31,362.08 590.41,359.83 590.52,362.26 590.62,362.10 590.72,362.26 590.82,362.33 590.93,359.84 591.03,362.10 591.13,362.70 591.24,359.67 591.34,361.23 591.44,361.43 591.54,359.62 591.65,361.03 591.75,361.42 591.85,362.02 591.96,359.94 592.06,362.33 592.16,361.41 592.26,361.57 592.37,361.83 592.47,359.58 592.57,361.29 592.68,361.03 592.78,359.78 592.88,361.36 592.98,361.05 593.09,361.23 593.19,361.43 593.29,361.58 593.40,360.96 593.50,360.66 593.60,362.23 593.70,360.34 593.81,361.11 593.91,362.99 594.01,360.85 594.12,360.01 594.22,360.89 594.32,360.39 594.42,363.62 594.53,362.55 594.63,360.53 594.73,361.54 594.83,361.11 594.94,361.57 595.04,362.57 595.14,359.61 595.25,359.38 595.35,359.36 595.45,360.44 595.55,360.16 595.66,360.69 595.76,361.17 595.86,359.84 595.97,360.82 596.07,362.03 596.17,360.34 596.27,362.80 596.38,360.63 596.48,362.42 596.58,362.31 596.69,359.43 596.79,361.11 596.89,361.52 596.99,362.47 597.10,362.91 597.20,362.19 597.30,361.63 597.41,362.81 597.51,361.21 597.61,361.38 597.71,361.63 597.82,362.00 597.92,361.74 598.02,362.64 598.13,362.62 598.23,360.61 598.33,360.56 598.43,362.14 598.54,361.63 598.64,361.06 598.74,362.01 598.84,359.75 598.95,360.64 599.05,361.26 599.15,360.46 599.26,360.47 599.36,360.40 599.46,361.51 599.56,361.29 599.67,359.43 599.77,361.40 599.87,360.90 599.98,360.58 600.08,361.11 600.18,361.81 600.28,359.64 600.39,362.23 600.49,362.52 600.59,362.97 600.70,364.06 600.80,362.33 600.90,359.24 601.00,363.31 601.11,361.99 601.21,362.17 601.31,361.16 601.42,360.87 601.52,362.78 601.62,360.60 601.72,361.83 601.83,361.15 601.93,362.53 602.03,362.02 602.14,360.77 602.24,360.40 602.34,363.78 602.44,361.03 602.55,363.16 602.65,360.71 602.75,360.42 602.85,359.97 602.96,360.02 603.06,361.23 603.16,361.72 603.27,362.20 603.37,360.62 603.47,362.20 603.57,360.50 603.68,361.92 603.78,359.78 603.88,362.51 603.99,361.14 604.09,362.20 604.19,361.86 604.29,362.23 604.40,363.51 604.50,361.97 604.60,359.44 604.71,360.15 604.81,362.60 604.91,360.44 605.01,361.55 605.12,361.14 605.22,361.12 605.32,361.01 605.43,362.34 605.53,361.83 605.63,361.76 605.73,362.73 605.84,360.41 605.94,361.17 606.04,362.57 606.15,359.74 606.25,360.96 606.35,360.81 606.45,361.86 606.56,363.02 606.66,362.17 606.76,361.39 606.86,363.54 606.97,359.56 607.07,362.88 607.17,360.00 607.28,360.64 607.38,360.63 607.48,363.48 607.58,363.49 607.69,362.62 607.79,360.93 607.89,360.37 608.00,360.93 608.10,360.99 608.20,360.44 608.30,361.82 608.41,360.85 608.51,362.24 608.61,360.86 608.72,362.70 608.82,361.36 608.92,360.55 609.02,359.37 609.13,359.44 609.23,361.08 609.33,361.28 609.44,362.92 609.54,360.26 609.64,359.91 609.74,360.47 609.85,362.90 609.95,359.51 610.05,361.29 610.16,361.04 610.26,360.91 610.36,360.87 610.46,360.80 610.57,361.06 610.67,360.60 610.77,360.40 610.87,362.25 610.98,361.38 611.08,359.71 611.18,362.95 611.29,360.55 611.39,362.61 611.49,360.23 611.59,361.75 611.70,360.50 611.80,359.66 611.90,363.02 612.01,361.48 612.11,362.31 612.21,361.55 612.31,359.46 612.42,361.60 612.52,361.75 612.62,359.26 612.73,362.15 612.83,362.35 612.93,362.28 613.03,363.41 613.14,360.20 613.24,360.50 613.34,363.56 613.45,363.40 613.55,360.95 613.65,362.51 613.75,360.00 613.86,362.43 613.96,360.30 614.06,360.30 614.17,360.22 614.27,363.07 614.37,363.47 614.47,362.44 614.58,361.75 614.68,362.52 614.78,361.68 614.88,360.98 614.99,360.95 615.09,361.58 615.19,363.22 615.30,362.40 615.40,361.07 615.50,360.29 615.60,361.44 615.71,363.46 615.81,360.79 615.91,360.19 616.02,363.08 616.12,360.16 616.22,361.02 616.32,359.13 616.43,360.22 616.53,361.76 616.63,362.32 616.74,360.68 616.84,361.19 616.94,362.00 617.04,362.71 617.15,363.63 617.25,360.24 617.35,361.85 617.46,363.51 617.56,362.58 617.66,359.93 617.76,361.85 617.87,360.55 617.97,359.72 618.07,361.88 618.18,361.95 618.28,362.85 618.38,361.19 618.48,360.47 618.59,360.94 618.69,361.92 618.79,361.53 618.89,360.83 619.00,361.30 619.10,360.73 619.20,360.23 619.31,361.16 619.41,360.21 619.51,359.63 619.61,362.46 619.72,361.83 619.82,362.39 619.92,360.77 620.03,360.61 620.13,361.10 620.23,363.15 620.33,362.99 620.44,363.22 620.54,368.04 620.64,367.97 620.75,369.48 620.85,370.86 620.95,372.39 621.05,372.11 621.16,373.91 621.26,377.50 621.36,378.11 621.47,379.72 621.57,379.13 621.67,381.31 621.77,382.59 621.88,383.09 621.98,381.73 622.08,384.10 622.19,384.75 622.29,380.30 622.39,379.99 622.49,376.20 622.60,376.27 622.70,372.16 622.80,369.64 622.91,370.01 623.01,368.08 623.11,363.54 623.21,362.38 623.32,359.85 623.42,359.03 623.52,356.92 623.62,356.60 623.73,351.59 623.83,350.49 623.93,347.43 624.04,346.98 624.14,343.38 624.24,344.53 624.34,343.83 624.45,342.84 624.55,343.18 624.65,345.86 624.76,345.62 624.86,342.31 624.96,342.06 625.06,346.98 625.17,356.11 625.27,360.34 625.37,364.30 625.48,371.94 625.58,375.83 625.68,383.40 625.78,388.14 625.89,392.72 625.99,399.60 626.09,404.57 626.20,411.31 626.30,418.14 626.40,423.05 626.50,429.71 626.61,430.03 626.71,428.34 626.81,431.00 626.92,427.62 627.02,429.85 627.12,428.28 627.22,431.07 627.33,431.54 627.43,430.43 627.53,428.82 627.63,430.00 627.74,430.33 627.84,428.44 627.94,428.89 628.05,427.00 628.15,429.44 628.25,429.04 628.35,428.12 628.46,427.00 628.56,427.84 628.66,426.10 628.77,425.77 628.87,427.94 628.97,425.13 629.07,428.30 629.18,425.74 629.28,427.04 629.38,426.82 629.49,425.63 629.59,424.60 629.69,423.20 629.79,426.04 629.90,422.91 630.00,423.66 630.10,421.58 630.21,423.47 630.31,423.75 630.41,421.83 630.51,424.48 630.62,421.09 630.72,422.66 630.82,420.10 630.93,421.84 631.03,423.56 631.13,424.00 631.23,421.60 631.34,420.65 631.44,421.04 631.54,421.13 631.64,420.70 631.75,420.96 631.85,418.77 631.95,420.74 632.06,418.64 632.16,420.13 632.26,421.81 632.36,418.66 632.47,422.41 632.57,420.71 632.67,419.85 632.78,420.48 632.88,419.69 632.98,420.49 633.08,421.55 633.19,420.49 633.29,420.21 633.39,419.70 633.50,421.39 633.60,419.34 633.70,419.01 633.80,419.49 633.91,420.75 634.01,421.72 634.11,421.97 634.22,418.56 634.32,418.57 634.42,419.51 634.52,420.50 634.63,420.73 634.73,417.61 634.83,421.03 634.94,419.98 635.04,420.19 635.14,418.69 635.24,418.22 635.35,420.04 635.45,422.29 635.55,420.46 635.65,418.75 635.76,421.06 635.86,419.48 635.96,418.81 636.07,419.87 636.17,419.69 636.27,421.42 636.37,422.14 636.48,419.35 636.58,421.69 636.68,420.27 636.79,418.81 636.89,420.31 636.99,420.18 637.09,420.60 637.20,420.54 637.30,421.28 637.40,421.26 637.51,422.22 637.61,420.05 637.71,419.49 637.81,421.82 637.92,421.04 638.02,421.27 638.12,419.82 638.23,420.65 638.33,419.43 638.43,421.16 638.53,423.27 638.64,422.30 638.74,420.47 638.84,421.95 638.95,422.12 639.05,421.24 639.15,422.69 639.25,419.23 639.36,422.26 639.46,419.35 639.56,420.98 639.66,420.00 639.77,421.85 639.87,422.82 639.97,421.04 640.08,422.59 640.18,421.78 640.28,422.15 640.38,418.73 640.49,420.84 640.59,419.24 640.69,421.29 640.80,420.96 640.90,419.58 641.00,421.43 641.10,419.40 641.21,421.53 641.31,421.98 641.41,420.42 641.52,422.85 641.62,421.99 641.72,419.92 641.82,420.21 641.93,421.59 642.03,421.17 642.13,420.40 642.24,419.42 642.34,420.59 642.44,420.13 642.54,420.38 642.65,421.56 642.75,421.36 642.85,420.47 642.96,422.46 643.06,420.62 643.16,419.61 643.26,420.67 643.37,421.66 643.47,421.93 643.57,421.05 643.67,419.94 643.78,420.92 643.88,423.03 643.98,422.41 644.09,419.93 644.19,422.62 644.29,420.25 644.39,420.50 644.50,421.99 644.60,421.98 644.70,422.27 644.81,421.86 644.91,421.96 645.01,421.47 645.11,419.95 645.22,421.75 645.32,420.32 645.42,419.17 645.53,420.50 645.63,422.42 645.73,420.57 645.83,420.96 645.94,422.92 646.04,419.81 646.14,421.26 646.25,423.10 646.35,420.76 646.45,421.32 646.55,421.55 646.66,420.20 646.76,419.98 646.86,421.79 646.97,420.67 647.07,421.49 647.17,423.00 647.27,419.58 647.38,419.87 647.48,421.92 647.58,421.07 647.68,422.04 647.79,420.96 647.89,423.02 647.99,421.79 648.10,420.64 648.20,420.99 648.30,421.86 648.40,423.74 648.51,423.78 648.61,423.28 648.71,422.70 648.82,421.94 648.92,420.70 649.02,419.46 649.12,421.31 649.23,422.35 649.33,423.07 649.43,422.23 649.54,422.61 649.64,423.98 649.74,421.67 649.84,420.42 649.95,420.81 650.05,422.02 650.15,421.36 650.26,422.11 650.36,421.28 650.46,423.13 650.56,420.64 650.67,422.19 650.77,423.42 650.87,420.59 650.98,420.78 651.08,423.72 651.18,421.58 651.28,420.96 651.39,423.97 651.49,422.20 651.59,423.48 651.69,420.92 651.80,421.21 651.90,422.18 652.00,422.43 652.11,424.08 652.21,423.81 652.31,423.96 652.41,422.47 652.52,423.38 652.62,423.89 652.72,421.36 652.83,423.03 652.93,421.36 653.03,421.74 653.13,423.43 653.24,420.80 653.34,424.56 653.44,421.24 653.55,424.02 653.65,422.61 653.75,422.40 653.85,421.57 653.96,420.94 654.06,421.02 654.16,422.31 654.27,423.02 654.37,421.87 654.47,422.63 654.57,423.58 654.68,421.93 654.78,424.08 654.88,422.06 654.99,424.44 655.09,424.13 655.19,422.70 655.29,423.51 655.40,422.54 655.50,422.65 655.60,422.43 655.70,421.74 655.81,423.22 655.91,425.16 656.01,422.68 656.12,422.77 656.22,423.86 656.32,423.24 656.42,421.93 656.53,422.96 656.63,423.39 656.73,421.66 656.84,424.37 656.94,422.27 657.04,422.98 657.14,421.81 657.25,423.73 657.35,423.52 657.45,422.97 657.56,423.94 657.66,425.61 657.76,423.69 657.86,421.37 657.97,421.32 658.07,423.79 658.17,425.15 658.28,422.95 658.38,423.08 658.48,424.05 658.58,423.59 658.69,420.86 658.79,423.18 658.89,422.55 659.00,423.96 659.10,424.13 659.20,422.59 659.30,421.74 659.41,422.43 659.51,424.64 659.61,423.46 659.71,422.36 659.82,423.61 659.92,424.94 660.02,422.13 660.13,423.92 660.23,423.25 660.33,424.68 660.43,423.57 660.54,421.44 660.64,422.34 660.74,425.12 660.85,425.70 660.95,423.30 661.05,424.49 661.15,421.61 661.26,423.88 661.36,423.83 661.46,421.61 661.57,423.85 661.67,426.12 661.77,425.35 661.87,425.24 661.98,422.27 662.08,423.62 662.18,424.27 662.29,425.17 662.39,424.12 662.49,424.06 662.59,422.59 662.70,423.66 662.80,422.48 662.90,424.35 663.01,423.24 663.11,424.14 663.21,422.34 663.31,422.70 663.42,423.16 663.52,426.52 663.62,423.66 663.72,423.03 663.83,423.01 663.93,425.70 664.03,425.52 664.14,425.46 664.24,423.83 664.34,423.58 664.44,425.94 664.55,421.53 664.65,423.04 664.75,423.15 664.86,422.02 664.96,424.69 665.06,424.47 665.16,425.50 665.27,422.92 665.37,424.30 665.47,423.80 665.58,426.24 665.68,425.14 665.78,422.46 665.88,423.11 665.99,424.30 666.09,425.58 666.19,424.24 666.30,423.67 666.40,423.08 666.50,423.78 666.60,424.45 666.71,423.46 666.81,423.38 666.91,424.82 667.02,425.35 667.12,425.29 667.22,423.16 667.32,422.85 667.43,423.36 667.53,425.18 667.63,424.44 667.73,426.30 667.84,427.25 667.94,425.23 668.04,424.27 668.15,422.91 668.25,422.84 668.35,424.83 668.45,424.23 668.56,425.00 668.66,426.28 668.76,424.85 668.87,426.97 668.97,424.96 669.07,424.80 669.17,426.61 669.28,425.22 669.38,424.82 669.48,425.33 669.59,424.82 669.69,426.65 669.79,424.28 669.89,424.42 670.00,426.08 670.10,427.08 670.20,424.68 670.31,423.47 670.41,423.83 670.51,426.68 670.61,426.72 670.72,426.11 670.82,427.20 670.92,425.12 671.03,424.40 671.13,423.53 671.23,424.15 671.33,424.69 671.44,423.86 671.54,426.31 671.64,426.25 671.74,425.25 671.85,426.73 671.95,423.53 672.05,424.33 672.16,424.72 672.26,424.66 672.36,425.33 672.46,424.48 672.57,425.75 672.67,425.68 672.77,423.93 672.88,424.65 672.98,425.83 673.08,425.53 673.18,426.85 673.29,425.74 673.39,426.50 673.49,427.05 673.60,427.25 673.70,425.95 673.80,427.29 673.90,426.64 674.01,423.70 674.11,424.59 674.21,424.71 674.32,425.32 674.42,424.56 674.52,427.47 674.62,428.48 674.73,427.26 674.83,425.33 674.93,427.07 675.04,426.02 675.14,425.28 675.24,428.51 675.34,428.79 675.45,426.46 675.55,424.80 675.65,425.44 675.75,425.57 675.86,425.00 675.96,424.62 676.06,424.82 676.17,427.09 676.27,424.69 676.37,425.98 676.47,427.09 676.58,425.79 676.68,426.31 676.78,426.49 676.89,427.70 676.99,426.48 677.09,425.50 677.19,426.27 677.30,425.89 677.40,424.49" clip-path="url(#k12)"/>
<rect x="564.40" y="347.60" width="113.00" height="85.40" fill="none" stroke="#6a6a6a" stroke-width="1"/>
<path d="M564.40 433.00v-2.30M564.40 347.60v2.30M592.65 433.00v-2.30M592.65 347.60v2.30M620.90 433.00v-2.30M620.90 347.60v2.30M649.15 433.00v-2.30M649.15 347.60v2.30M677.40 433.00v-2.30M677.40 347.60v2.30M564.40 426.43h2.30M677.40 426.43h-2.30M564.40 393.58h2.30M677.40 393.58h-2.30M564.40 360.74h2.30M677.40 360.74h-2.30" stroke="#6a6a6a" stroke-width="1" fill="none"/>
<path d="M578.52 433.00v-1.60M578.52 347.60v1.60M606.77 433.00v-1.60M606.77 347.60v1.60M635.02 433.00v-1.60M635.02 347.60v1.60M663.27 433.00v-1.60M663.27 347.60v1.60" stroke="#6a6a6a" stroke-width="0.9" fill="none"/>
<text x="564.40" y="445.90" font-size="10.20" text-anchor="middle">−1.0</text>
<text x="592.65" y="445.90" font-size="10.20" text-anchor="middle">−0.5</text>
<text x="620.90" y="445.90" font-size="10.20" text-anchor="middle">0.0</text>
<text x="649.15" y="445.90" font-size="10.20" text-anchor="middle">0.5</text>
<text x="677.40" y="445.90" font-size="10.20" text-anchor="middle">1.0</text>
<text x="559.80" y="434.90" font-size="10.20" text-anchor="end">0.0</text>
<text x="559.80" y="399.90" font-size="10.20" text-anchor="end">0.5</text>
<text x="559.80" y="364.80" font-size="10.20" text-anchor="end">1.0</text>
<text x="620.90" y="462.10" font-size="10.60" text-anchor="middle">Time [µs]</text>
<text x="536.10" y="390.30" font-size="10.60" text-anchor="middle" transform="rotate(-90 536.10 390.30)">Output [a.u.]</text>
<text x="625.90" y="395.20" font-size="9.5" font-style="italic" fill="#222">τ<tspan font-size="6.3" dx="0.5" dy="3.0">fall</tspan><tspan dy="-3.0">= </tspan>100 ns</text>
</svg></body></html>
